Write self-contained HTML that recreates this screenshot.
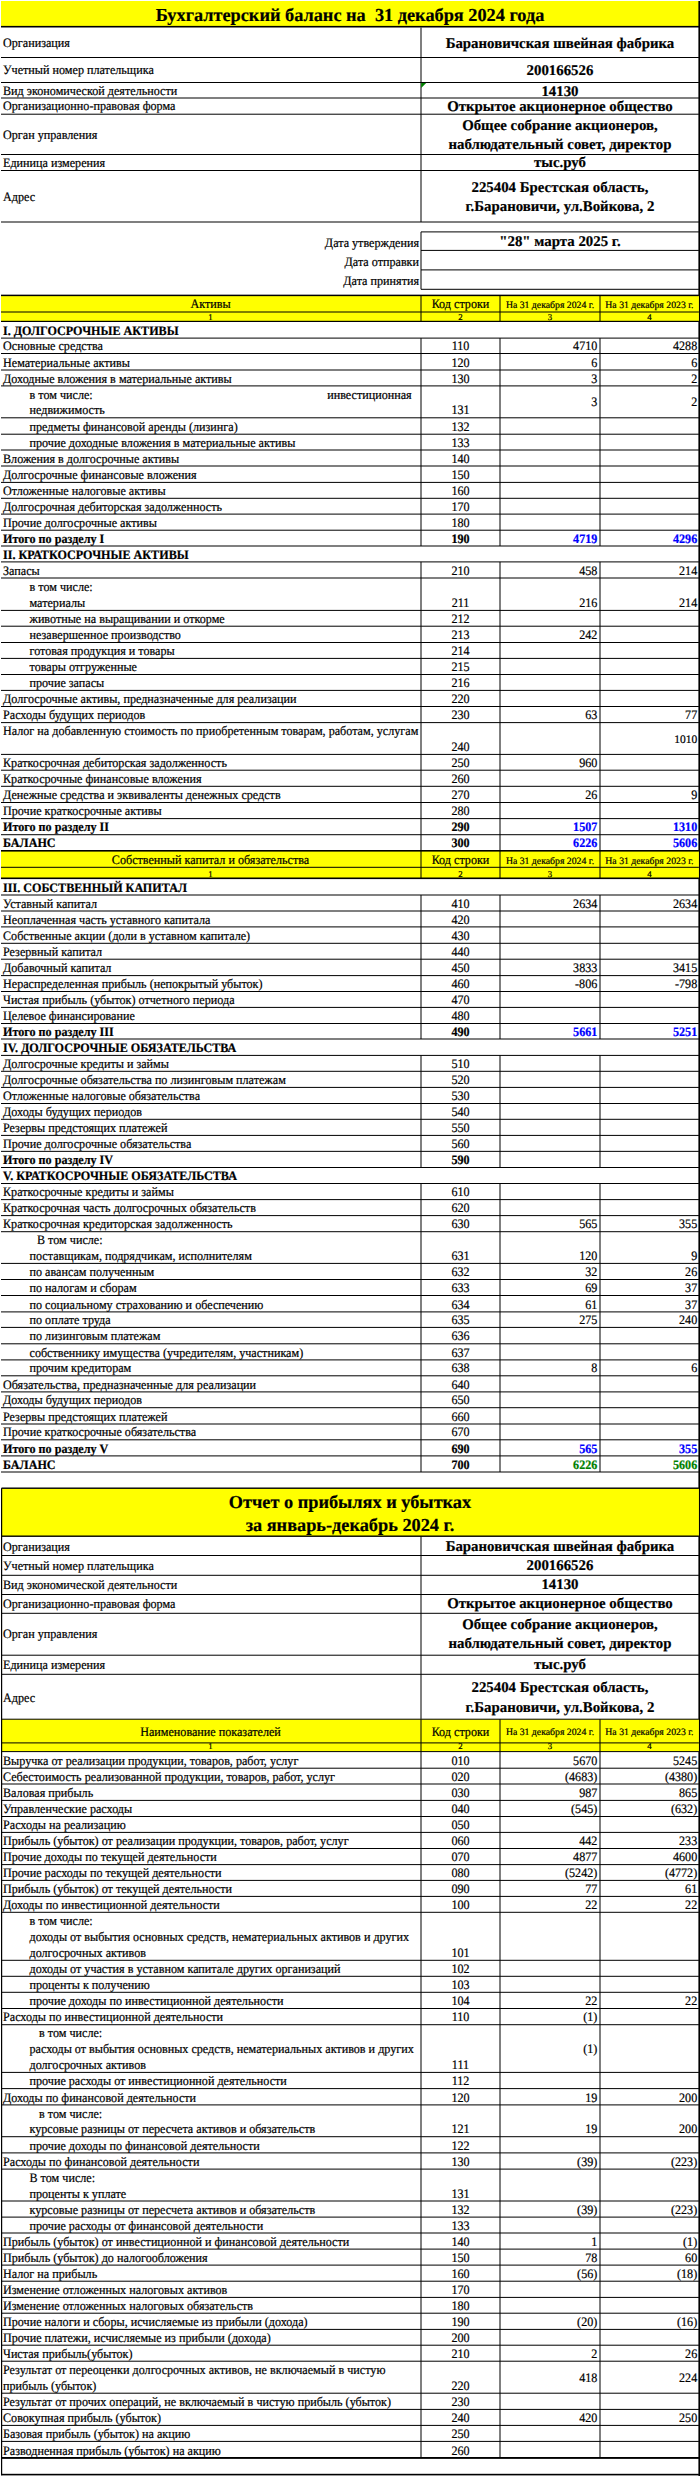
<!DOCTYPE html>
<html><head><meta charset="utf-8"><title>Бухгалтерский баланс</title>
<style>
html,body{margin:0;padding:0;background:#fff;}
#pg{position:relative;width:700px;height:2476px;overflow:hidden;background:#fff;}
#pg svg{position:absolute;left:0;top:0;}
.t{position:absolute;white-space:nowrap;line-height:1;font-family:"Liberation Serif",serif;color:#000;-webkit-text-stroke:0.2px currentColor;text-rendering:geometricPrecision;}
</style></head><body><div id="pg">
<svg width="700" height="2476" viewBox="0 0 700 2476">
<rect x="1.00" y="1.00" width="698.00" height="25.20" fill="#ffff00"/>
<rect x="1.00" y="25.90" width="698.00" height="1.60" fill="#000"/>
<rect x="698.40" y="1.00" width="1.60" height="2475.00" fill="#000"/>
<rect x="1.00" y="57.00" width="697.90" height="1.00" fill="#000"/>
<rect x="1.00" y="82.00" width="697.90" height="1.00" fill="#000"/>
<rect x="1.00" y="97.50" width="697.90" height="1.00" fill="#000"/>
<rect x="1.00" y="113.70" width="697.90" height="1.00" fill="#000"/>
<rect x="1.00" y="154.00" width="697.90" height="1.00" fill="#000"/>
<rect x="1.00" y="170.00" width="697.90" height="1.00" fill="#000"/>
<rect x="1.00" y="221.50" width="697.90" height="1.00" fill="#000"/>
<rect x="420.50" y="27.50" width="1.00" height="194.50" fill="#000"/>
<polygon points="421.2,82.9 426.2,82.9 421.2,88" fill="#008000"/>
<rect x="421.00" y="231.40" width="277.90" height="1.00" fill="#000"/>
<rect x="421.00" y="249.90" width="277.90" height="1.00" fill="#000"/>
<rect x="421.00" y="269.40" width="277.90" height="1.00" fill="#000"/>
<rect x="421.00" y="288.80" width="277.90" height="1.00" fill="#000"/>
<rect x="420.50" y="231.90" width="1.00" height="57.40" fill="#000"/>
<rect x="1.00" y="295.40" width="697.90" height="26.00" fill="#ffff00"/>
<rect x="1.00" y="294.65" width="697.90" height="1.50" fill="#000"/>
<rect x="1.00" y="311.50" width="697.90" height="1.00" fill="#000"/>
<rect x="1.00" y="320.80" width="697.90" height="1.20" fill="#000"/>
<rect x="420.50" y="295.40" width="1.00" height="26.00" fill="#000"/>
<rect x="499.50" y="295.40" width="1.00" height="26.00" fill="#000"/>
<rect x="599.50" y="295.40" width="1.00" height="26.00" fill="#000"/>
<rect x="1.00" y="337.60" width="697.90" height="1.00" fill="#000"/>
<rect x="1.00" y="353.00" width="697.90" height="1.00" fill="#000"/>
<rect x="420.50" y="338.10" width="1.00" height="15.40" fill="#000"/>
<rect x="499.50" y="338.10" width="1.00" height="15.40" fill="#000"/>
<rect x="599.50" y="338.10" width="1.00" height="15.40" fill="#000"/>
<rect x="1.00" y="369.50" width="697.90" height="1.00" fill="#000"/>
<rect x="420.50" y="353.50" width="1.00" height="16.50" fill="#000"/>
<rect x="499.50" y="353.50" width="1.00" height="16.50" fill="#000"/>
<rect x="599.50" y="353.50" width="1.00" height="16.50" fill="#000"/>
<rect x="1.00" y="385.40" width="697.90" height="1.00" fill="#000"/>
<rect x="420.50" y="370.00" width="1.00" height="15.90" fill="#000"/>
<rect x="499.50" y="370.00" width="1.00" height="15.90" fill="#000"/>
<rect x="599.50" y="370.00" width="1.00" height="15.90" fill="#000"/>
<rect x="1.00" y="417.30" width="697.90" height="1.00" fill="#000"/>
<rect x="420.50" y="385.90" width="1.00" height="31.90" fill="#000"/>
<rect x="499.50" y="385.90" width="1.00" height="31.90" fill="#000"/>
<rect x="599.50" y="385.90" width="1.00" height="31.90" fill="#000"/>
<rect x="1.00" y="433.70" width="697.90" height="1.00" fill="#000"/>
<rect x="420.50" y="417.80" width="1.00" height="16.40" fill="#000"/>
<rect x="499.50" y="417.80" width="1.00" height="16.40" fill="#000"/>
<rect x="599.50" y="417.80" width="1.00" height="16.40" fill="#000"/>
<rect x="1.00" y="449.50" width="697.90" height="1.00" fill="#000"/>
<rect x="420.50" y="434.20" width="1.00" height="15.80" fill="#000"/>
<rect x="499.50" y="434.20" width="1.00" height="15.80" fill="#000"/>
<rect x="599.50" y="434.20" width="1.00" height="15.80" fill="#000"/>
<rect x="1.00" y="465.50" width="697.90" height="1.00" fill="#000"/>
<rect x="420.50" y="450.00" width="1.00" height="16.00" fill="#000"/>
<rect x="499.50" y="450.00" width="1.00" height="16.00" fill="#000"/>
<rect x="599.50" y="450.00" width="1.00" height="16.00" fill="#000"/>
<rect x="1.00" y="481.90" width="697.90" height="1.00" fill="#000"/>
<rect x="420.50" y="466.00" width="1.00" height="16.40" fill="#000"/>
<rect x="499.50" y="466.00" width="1.00" height="16.40" fill="#000"/>
<rect x="599.50" y="466.00" width="1.00" height="16.40" fill="#000"/>
<rect x="1.00" y="497.80" width="697.90" height="1.00" fill="#000"/>
<rect x="420.50" y="482.40" width="1.00" height="15.90" fill="#000"/>
<rect x="499.50" y="482.40" width="1.00" height="15.90" fill="#000"/>
<rect x="599.50" y="482.40" width="1.00" height="15.90" fill="#000"/>
<rect x="1.00" y="513.60" width="697.90" height="1.00" fill="#000"/>
<rect x="420.50" y="498.30" width="1.00" height="15.80" fill="#000"/>
<rect x="499.50" y="498.30" width="1.00" height="15.80" fill="#000"/>
<rect x="599.50" y="498.30" width="1.00" height="15.80" fill="#000"/>
<rect x="1.00" y="529.70" width="697.90" height="1.00" fill="#000"/>
<rect x="420.50" y="514.10" width="1.00" height="16.10" fill="#000"/>
<rect x="499.50" y="514.10" width="1.00" height="16.10" fill="#000"/>
<rect x="599.50" y="514.10" width="1.00" height="16.10" fill="#000"/>
<rect x="1.00" y="545.50" width="697.90" height="1.00" fill="#000"/>
<rect x="420.50" y="530.20" width="1.00" height="15.80" fill="#000"/>
<rect x="499.50" y="530.20" width="1.00" height="15.80" fill="#000"/>
<rect x="599.50" y="530.20" width="1.00" height="15.80" fill="#000"/>
<rect x="1.00" y="561.40" width="697.90" height="1.00" fill="#000"/>
<rect x="1.00" y="577.50" width="697.90" height="1.00" fill="#000"/>
<rect x="420.50" y="561.90" width="1.00" height="16.10" fill="#000"/>
<rect x="499.50" y="561.90" width="1.00" height="16.10" fill="#000"/>
<rect x="599.50" y="561.90" width="1.00" height="16.10" fill="#000"/>
<rect x="1.00" y="609.90" width="697.90" height="1.00" fill="#000"/>
<rect x="420.50" y="578.00" width="1.00" height="32.40" fill="#000"/>
<rect x="499.50" y="578.00" width="1.00" height="32.40" fill="#000"/>
<rect x="599.50" y="578.00" width="1.00" height="32.40" fill="#000"/>
<rect x="1.00" y="625.70" width="697.90" height="1.00" fill="#000"/>
<rect x="420.50" y="610.40" width="1.00" height="15.80" fill="#000"/>
<rect x="499.50" y="610.40" width="1.00" height="15.80" fill="#000"/>
<rect x="599.50" y="610.40" width="1.00" height="15.80" fill="#000"/>
<rect x="1.00" y="642.00" width="697.90" height="1.00" fill="#000"/>
<rect x="420.50" y="626.20" width="1.00" height="16.30" fill="#000"/>
<rect x="499.50" y="626.20" width="1.00" height="16.30" fill="#000"/>
<rect x="599.50" y="626.20" width="1.00" height="16.30" fill="#000"/>
<rect x="1.00" y="657.90" width="697.90" height="1.00" fill="#000"/>
<rect x="420.50" y="642.50" width="1.00" height="15.90" fill="#000"/>
<rect x="499.50" y="642.50" width="1.00" height="15.90" fill="#000"/>
<rect x="599.50" y="642.50" width="1.00" height="15.90" fill="#000"/>
<rect x="1.00" y="674.00" width="697.90" height="1.00" fill="#000"/>
<rect x="420.50" y="658.40" width="1.00" height="16.10" fill="#000"/>
<rect x="499.50" y="658.40" width="1.00" height="16.10" fill="#000"/>
<rect x="599.50" y="658.40" width="1.00" height="16.10" fill="#000"/>
<rect x="1.00" y="689.90" width="697.90" height="1.00" fill="#000"/>
<rect x="420.50" y="674.50" width="1.00" height="15.90" fill="#000"/>
<rect x="499.50" y="674.50" width="1.00" height="15.90" fill="#000"/>
<rect x="599.50" y="674.50" width="1.00" height="15.90" fill="#000"/>
<rect x="1.00" y="706.00" width="697.90" height="1.00" fill="#000"/>
<rect x="420.50" y="690.40" width="1.00" height="16.10" fill="#000"/>
<rect x="499.50" y="690.40" width="1.00" height="16.10" fill="#000"/>
<rect x="599.50" y="690.40" width="1.00" height="16.10" fill="#000"/>
<rect x="1.00" y="722.10" width="697.90" height="1.00" fill="#000"/>
<rect x="420.50" y="706.50" width="1.00" height="16.10" fill="#000"/>
<rect x="499.50" y="706.50" width="1.00" height="16.10" fill="#000"/>
<rect x="599.50" y="706.50" width="1.00" height="16.10" fill="#000"/>
<rect x="1.00" y="753.90" width="697.90" height="1.00" fill="#000"/>
<rect x="420.50" y="722.60" width="1.00" height="31.80" fill="#000"/>
<rect x="499.50" y="722.60" width="1.00" height="31.80" fill="#000"/>
<rect x="599.50" y="722.60" width="1.00" height="31.80" fill="#000"/>
<rect x="1.00" y="769.70" width="697.90" height="1.00" fill="#000"/>
<rect x="420.50" y="754.40" width="1.00" height="15.80" fill="#000"/>
<rect x="499.50" y="754.40" width="1.00" height="15.80" fill="#000"/>
<rect x="599.50" y="754.40" width="1.00" height="15.80" fill="#000"/>
<rect x="1.00" y="785.80" width="697.90" height="1.00" fill="#000"/>
<rect x="420.50" y="770.20" width="1.00" height="16.10" fill="#000"/>
<rect x="499.50" y="770.20" width="1.00" height="16.10" fill="#000"/>
<rect x="599.50" y="770.20" width="1.00" height="16.10" fill="#000"/>
<rect x="1.00" y="802.00" width="697.90" height="1.00" fill="#000"/>
<rect x="420.50" y="786.30" width="1.00" height="16.20" fill="#000"/>
<rect x="499.50" y="786.30" width="1.00" height="16.20" fill="#000"/>
<rect x="599.50" y="786.30" width="1.00" height="16.20" fill="#000"/>
<rect x="1.00" y="818.10" width="697.90" height="1.00" fill="#000"/>
<rect x="420.50" y="802.50" width="1.00" height="16.10" fill="#000"/>
<rect x="499.50" y="802.50" width="1.00" height="16.10" fill="#000"/>
<rect x="599.50" y="802.50" width="1.00" height="16.10" fill="#000"/>
<rect x="1.00" y="834.20" width="697.90" height="1.00" fill="#000"/>
<rect x="420.50" y="818.60" width="1.00" height="16.10" fill="#000"/>
<rect x="499.50" y="818.60" width="1.00" height="16.10" fill="#000"/>
<rect x="599.50" y="818.60" width="1.00" height="16.10" fill="#000"/>
<rect x="1.00" y="850.22" width="697.90" height="1.00" fill="#000"/>
<rect x="420.50" y="834.70" width="1.00" height="16.02" fill="#000"/>
<rect x="499.50" y="834.70" width="1.00" height="16.02" fill="#000"/>
<rect x="599.50" y="834.70" width="1.00" height="16.02" fill="#000"/>
<rect x="1.00" y="850.80" width="697.90" height="27.50" fill="#ffff00"/>
<rect x="1.00" y="850.00" width="697.90" height="1.60" fill="#000"/>
<rect x="1.00" y="866.80" width="697.90" height="1.00" fill="#000"/>
<rect x="1.00" y="877.50" width="697.90" height="1.60" fill="#000"/>
<rect x="420.50" y="850.80" width="1.00" height="27.50" fill="#000"/>
<rect x="499.50" y="850.80" width="1.00" height="27.50" fill="#000"/>
<rect x="599.50" y="850.80" width="1.00" height="27.50" fill="#000"/>
<rect x="1.00" y="894.50" width="697.90" height="1.00" fill="#000"/>
<rect x="1.00" y="910.50" width="697.90" height="1.00" fill="#000"/>
<rect x="420.50" y="895.00" width="1.00" height="16.00" fill="#000"/>
<rect x="499.50" y="895.00" width="1.00" height="16.00" fill="#000"/>
<rect x="599.50" y="895.00" width="1.00" height="16.00" fill="#000"/>
<rect x="1.00" y="926.40" width="697.90" height="1.00" fill="#000"/>
<rect x="420.50" y="911.00" width="1.00" height="15.90" fill="#000"/>
<rect x="499.50" y="911.00" width="1.00" height="15.90" fill="#000"/>
<rect x="599.50" y="911.00" width="1.00" height="15.90" fill="#000"/>
<rect x="1.00" y="942.80" width="697.90" height="1.00" fill="#000"/>
<rect x="420.50" y="926.90" width="1.00" height="16.40" fill="#000"/>
<rect x="499.50" y="926.90" width="1.00" height="16.40" fill="#000"/>
<rect x="599.50" y="926.90" width="1.00" height="16.40" fill="#000"/>
<rect x="1.00" y="958.70" width="697.90" height="1.00" fill="#000"/>
<rect x="420.50" y="943.30" width="1.00" height="15.90" fill="#000"/>
<rect x="499.50" y="943.30" width="1.00" height="15.90" fill="#000"/>
<rect x="599.50" y="943.30" width="1.00" height="15.90" fill="#000"/>
<rect x="1.00" y="975.10" width="697.90" height="1.00" fill="#000"/>
<rect x="420.50" y="959.20" width="1.00" height="16.40" fill="#000"/>
<rect x="499.50" y="959.20" width="1.00" height="16.40" fill="#000"/>
<rect x="599.50" y="959.20" width="1.00" height="16.40" fill="#000"/>
<rect x="1.00" y="991.00" width="697.90" height="1.00" fill="#000"/>
<rect x="420.50" y="975.60" width="1.00" height="15.90" fill="#000"/>
<rect x="499.50" y="975.60" width="1.00" height="15.90" fill="#000"/>
<rect x="599.50" y="975.60" width="1.00" height="15.90" fill="#000"/>
<rect x="1.00" y="1006.90" width="697.90" height="1.00" fill="#000"/>
<rect x="420.50" y="991.50" width="1.00" height="15.90" fill="#000"/>
<rect x="499.50" y="991.50" width="1.00" height="15.90" fill="#000"/>
<rect x="599.50" y="991.50" width="1.00" height="15.90" fill="#000"/>
<rect x="1.00" y="1023.00" width="697.90" height="1.00" fill="#000"/>
<rect x="420.50" y="1007.40" width="1.00" height="16.10" fill="#000"/>
<rect x="499.50" y="1007.40" width="1.00" height="16.10" fill="#000"/>
<rect x="599.50" y="1007.40" width="1.00" height="16.10" fill="#000"/>
<rect x="1.00" y="1038.50" width="697.90" height="1.00" fill="#000"/>
<rect x="420.50" y="1023.50" width="1.00" height="15.50" fill="#000"/>
<rect x="499.50" y="1023.50" width="1.00" height="15.50" fill="#000"/>
<rect x="599.50" y="1023.50" width="1.00" height="15.50" fill="#000"/>
<rect x="1.00" y="1054.90" width="697.90" height="1.00" fill="#000"/>
<rect x="1.00" y="1070.80" width="697.90" height="1.00" fill="#000"/>
<rect x="420.50" y="1055.40" width="1.00" height="15.90" fill="#000"/>
<rect x="499.50" y="1055.40" width="1.00" height="15.90" fill="#000"/>
<rect x="599.50" y="1055.40" width="1.00" height="15.90" fill="#000"/>
<rect x="1.00" y="1086.90" width="697.90" height="1.00" fill="#000"/>
<rect x="420.50" y="1071.30" width="1.00" height="16.10" fill="#000"/>
<rect x="499.50" y="1071.30" width="1.00" height="16.10" fill="#000"/>
<rect x="599.50" y="1071.30" width="1.00" height="16.10" fill="#000"/>
<rect x="1.00" y="1103.00" width="697.90" height="1.00" fill="#000"/>
<rect x="420.50" y="1087.40" width="1.00" height="16.10" fill="#000"/>
<rect x="499.50" y="1087.40" width="1.00" height="16.10" fill="#000"/>
<rect x="599.50" y="1087.40" width="1.00" height="16.10" fill="#000"/>
<rect x="1.00" y="1118.80" width="697.90" height="1.00" fill="#000"/>
<rect x="420.50" y="1103.50" width="1.00" height="15.80" fill="#000"/>
<rect x="499.50" y="1103.50" width="1.00" height="15.80" fill="#000"/>
<rect x="599.50" y="1103.50" width="1.00" height="15.80" fill="#000"/>
<rect x="1.00" y="1134.90" width="697.90" height="1.00" fill="#000"/>
<rect x="420.50" y="1119.30" width="1.00" height="16.10" fill="#000"/>
<rect x="499.50" y="1119.30" width="1.00" height="16.10" fill="#000"/>
<rect x="599.50" y="1119.30" width="1.00" height="16.10" fill="#000"/>
<rect x="1.00" y="1150.85" width="697.90" height="1.00" fill="#000"/>
<rect x="420.50" y="1135.40" width="1.00" height="15.95" fill="#000"/>
<rect x="499.50" y="1135.40" width="1.00" height="15.95" fill="#000"/>
<rect x="599.50" y="1135.40" width="1.00" height="15.95" fill="#000"/>
<rect x="1.00" y="1167.00" width="697.90" height="1.00" fill="#000"/>
<rect x="420.50" y="1151.35" width="1.00" height="16.15" fill="#000"/>
<rect x="499.50" y="1151.35" width="1.00" height="16.15" fill="#000"/>
<rect x="599.50" y="1151.35" width="1.00" height="16.15" fill="#000"/>
<rect x="1.00" y="1183.00" width="697.90" height="1.00" fill="#000"/>
<rect x="1.00" y="1199.10" width="697.90" height="1.00" fill="#000"/>
<rect x="420.50" y="1183.50" width="1.00" height="16.10" fill="#000"/>
<rect x="499.50" y="1183.50" width="1.00" height="16.10" fill="#000"/>
<rect x="599.50" y="1183.50" width="1.00" height="16.10" fill="#000"/>
<rect x="1.00" y="1215.10" width="697.90" height="1.00" fill="#000"/>
<rect x="420.50" y="1199.60" width="1.00" height="16.00" fill="#000"/>
<rect x="499.50" y="1199.60" width="1.00" height="16.00" fill="#000"/>
<rect x="599.50" y="1199.60" width="1.00" height="16.00" fill="#000"/>
<rect x="1.00" y="1231.20" width="697.90" height="1.00" fill="#000"/>
<rect x="420.50" y="1215.60" width="1.00" height="16.10" fill="#000"/>
<rect x="499.50" y="1215.60" width="1.00" height="16.10" fill="#000"/>
<rect x="599.50" y="1215.60" width="1.00" height="16.10" fill="#000"/>
<rect x="1.00" y="1262.90" width="697.90" height="1.00" fill="#000"/>
<rect x="420.50" y="1231.70" width="1.00" height="31.70" fill="#000"/>
<rect x="499.50" y="1231.70" width="1.00" height="31.70" fill="#000"/>
<rect x="599.50" y="1231.70" width="1.00" height="31.70" fill="#000"/>
<rect x="1.00" y="1279.00" width="697.90" height="1.00" fill="#000"/>
<rect x="420.50" y="1263.40" width="1.00" height="16.10" fill="#000"/>
<rect x="499.50" y="1263.40" width="1.00" height="16.10" fill="#000"/>
<rect x="599.50" y="1263.40" width="1.00" height="16.10" fill="#000"/>
<rect x="1.00" y="1295.00" width="697.90" height="1.00" fill="#000"/>
<rect x="420.50" y="1279.50" width="1.00" height="16.00" fill="#000"/>
<rect x="499.50" y="1279.50" width="1.00" height="16.00" fill="#000"/>
<rect x="599.50" y="1279.50" width="1.00" height="16.00" fill="#000"/>
<rect x="1.00" y="1311.40" width="697.90" height="1.00" fill="#000"/>
<rect x="420.50" y="1295.50" width="1.00" height="16.40" fill="#000"/>
<rect x="499.50" y="1295.50" width="1.00" height="16.40" fill="#000"/>
<rect x="599.50" y="1295.50" width="1.00" height="16.40" fill="#000"/>
<rect x="1.00" y="1326.90" width="697.90" height="1.00" fill="#000"/>
<rect x="420.50" y="1311.90" width="1.00" height="15.50" fill="#000"/>
<rect x="499.50" y="1311.90" width="1.00" height="15.50" fill="#000"/>
<rect x="599.50" y="1311.90" width="1.00" height="15.50" fill="#000"/>
<rect x="1.00" y="1343.30" width="697.90" height="1.00" fill="#000"/>
<rect x="420.50" y="1327.40" width="1.00" height="16.40" fill="#000"/>
<rect x="499.50" y="1327.40" width="1.00" height="16.40" fill="#000"/>
<rect x="599.50" y="1327.40" width="1.00" height="16.40" fill="#000"/>
<rect x="1.00" y="1359.40" width="697.90" height="1.00" fill="#000"/>
<rect x="420.50" y="1343.80" width="1.00" height="16.10" fill="#000"/>
<rect x="499.50" y="1343.80" width="1.00" height="16.10" fill="#000"/>
<rect x="599.50" y="1343.80" width="1.00" height="16.10" fill="#000"/>
<rect x="1.00" y="1375.30" width="697.90" height="1.00" fill="#000"/>
<rect x="420.50" y="1359.90" width="1.00" height="15.90" fill="#000"/>
<rect x="499.50" y="1359.90" width="1.00" height="15.90" fill="#000"/>
<rect x="599.50" y="1359.90" width="1.00" height="15.90" fill="#000"/>
<rect x="1.00" y="1391.40" width="697.90" height="1.00" fill="#000"/>
<rect x="420.50" y="1375.80" width="1.00" height="16.10" fill="#000"/>
<rect x="499.50" y="1375.80" width="1.00" height="16.10" fill="#000"/>
<rect x="599.50" y="1375.80" width="1.00" height="16.10" fill="#000"/>
<rect x="1.00" y="1407.20" width="697.90" height="1.00" fill="#000"/>
<rect x="420.50" y="1391.90" width="1.00" height="15.80" fill="#000"/>
<rect x="499.50" y="1391.90" width="1.00" height="15.80" fill="#000"/>
<rect x="599.50" y="1391.90" width="1.00" height="15.80" fill="#000"/>
<rect x="1.00" y="1423.50" width="697.90" height="1.00" fill="#000"/>
<rect x="420.50" y="1407.70" width="1.00" height="16.30" fill="#000"/>
<rect x="499.50" y="1407.70" width="1.00" height="16.30" fill="#000"/>
<rect x="599.50" y="1407.70" width="1.00" height="16.30" fill="#000"/>
<rect x="1.00" y="1439.30" width="697.90" height="1.00" fill="#000"/>
<rect x="420.50" y="1424.00" width="1.00" height="15.80" fill="#000"/>
<rect x="499.50" y="1424.00" width="1.00" height="15.80" fill="#000"/>
<rect x="599.50" y="1424.00" width="1.00" height="15.80" fill="#000"/>
<rect x="1.00" y="1455.40" width="697.90" height="1.00" fill="#000"/>
<rect x="420.50" y="1439.80" width="1.00" height="16.10" fill="#000"/>
<rect x="499.50" y="1439.80" width="1.00" height="16.10" fill="#000"/>
<rect x="599.50" y="1439.80" width="1.00" height="16.10" fill="#000"/>
<rect x="1.00" y="1471.50" width="697.90" height="1.00" fill="#000"/>
<rect x="420.50" y="1455.90" width="1.00" height="16.10" fill="#000"/>
<rect x="499.50" y="1455.90" width="1.00" height="16.10" fill="#000"/>
<rect x="599.50" y="1455.90" width="1.00" height="16.10" fill="#000"/>
<rect x="1.50" y="1488.20" width="697.40" height="48.00" fill="#ffff00"/>
<rect x="1.50" y="1487.50" width="697.40" height="1.40" fill="#000"/>
<rect x="1.50" y="1535.50" width="697.40" height="1.40" fill="#000"/>
<rect x="1.50" y="1555.00" width="697.40" height="1.00" fill="#000"/>
<rect x="1.50" y="1574.80" width="697.40" height="1.00" fill="#000"/>
<rect x="1.50" y="1594.00" width="697.40" height="1.00" fill="#000"/>
<rect x="1.50" y="1612.80" width="697.40" height="1.00" fill="#000"/>
<rect x="1.50" y="1654.70" width="697.40" height="1.00" fill="#000"/>
<rect x="1.50" y="1673.80" width="697.40" height="1.00" fill="#000"/>
<rect x="420.50" y="1536.20" width="1.00" height="182.70" fill="#000"/>
<rect x="1.50" y="1719.20" width="697.40" height="32.40" fill="#ffff00"/>
<rect x="1.50" y="1718.70" width="697.40" height="1.00" fill="#000"/>
<rect x="1.50" y="1742.40" width="697.40" height="1.00" fill="#000"/>
<rect x="1.50" y="1751.10" width="697.40" height="1.00" fill="#000"/>
<rect x="420.50" y="1719.20" width="1.00" height="32.40" fill="#000"/>
<rect x="499.50" y="1719.20" width="1.00" height="32.40" fill="#000"/>
<rect x="599.50" y="1719.20" width="1.00" height="32.40" fill="#000"/>
<rect x="1.50" y="1767.70" width="697.40" height="1.00" fill="#000"/>
<rect x="420.50" y="1751.50" width="1.00" height="16.70" fill="#000"/>
<rect x="499.50" y="1751.50" width="1.00" height="16.70" fill="#000"/>
<rect x="599.50" y="1751.50" width="1.00" height="16.70" fill="#000"/>
<rect x="1.50" y="1783.50" width="697.40" height="1.00" fill="#000"/>
<rect x="420.50" y="1768.20" width="1.00" height="15.80" fill="#000"/>
<rect x="499.50" y="1768.20" width="1.00" height="15.80" fill="#000"/>
<rect x="599.50" y="1768.20" width="1.00" height="15.80" fill="#000"/>
<rect x="1.50" y="1799.90" width="697.40" height="1.00" fill="#000"/>
<rect x="420.50" y="1784.00" width="1.00" height="16.40" fill="#000"/>
<rect x="499.50" y="1784.00" width="1.00" height="16.40" fill="#000"/>
<rect x="599.50" y="1784.00" width="1.00" height="16.40" fill="#000"/>
<rect x="1.50" y="1816.00" width="697.40" height="1.00" fill="#000"/>
<rect x="420.50" y="1800.40" width="1.00" height="16.10" fill="#000"/>
<rect x="499.50" y="1800.40" width="1.00" height="16.10" fill="#000"/>
<rect x="599.50" y="1800.40" width="1.00" height="16.10" fill="#000"/>
<rect x="1.50" y="1831.90" width="697.40" height="1.00" fill="#000"/>
<rect x="420.50" y="1816.50" width="1.00" height="15.90" fill="#000"/>
<rect x="499.50" y="1816.50" width="1.00" height="15.90" fill="#000"/>
<rect x="599.50" y="1816.50" width="1.00" height="15.90" fill="#000"/>
<rect x="1.50" y="1848.00" width="697.40" height="1.00" fill="#000"/>
<rect x="420.50" y="1832.40" width="1.00" height="16.10" fill="#000"/>
<rect x="499.50" y="1832.40" width="1.00" height="16.10" fill="#000"/>
<rect x="599.50" y="1832.40" width="1.00" height="16.10" fill="#000"/>
<rect x="1.50" y="1864.10" width="697.40" height="1.00" fill="#000"/>
<rect x="420.50" y="1848.50" width="1.00" height="16.10" fill="#000"/>
<rect x="499.50" y="1848.50" width="1.00" height="16.10" fill="#000"/>
<rect x="599.50" y="1848.50" width="1.00" height="16.10" fill="#000"/>
<rect x="1.50" y="1879.90" width="697.40" height="1.00" fill="#000"/>
<rect x="420.50" y="1864.60" width="1.00" height="15.80" fill="#000"/>
<rect x="499.50" y="1864.60" width="1.00" height="15.80" fill="#000"/>
<rect x="599.50" y="1864.60" width="1.00" height="15.80" fill="#000"/>
<rect x="1.50" y="1895.90" width="697.40" height="1.00" fill="#000"/>
<rect x="420.50" y="1880.40" width="1.00" height="16.00" fill="#000"/>
<rect x="499.50" y="1880.40" width="1.00" height="16.00" fill="#000"/>
<rect x="599.50" y="1880.40" width="1.00" height="16.00" fill="#000"/>
<rect x="1.50" y="1911.80" width="697.40" height="1.00" fill="#000"/>
<rect x="420.50" y="1896.40" width="1.00" height="15.90" fill="#000"/>
<rect x="499.50" y="1896.40" width="1.00" height="15.90" fill="#000"/>
<rect x="599.50" y="1896.40" width="1.00" height="15.90" fill="#000"/>
<rect x="1.50" y="1959.80" width="697.40" height="1.00" fill="#000"/>
<rect x="420.50" y="1912.30" width="1.00" height="48.00" fill="#000"/>
<rect x="499.50" y="1912.30" width="1.00" height="48.00" fill="#000"/>
<rect x="599.50" y="1912.30" width="1.00" height="48.00" fill="#000"/>
<rect x="1.50" y="1975.80" width="697.40" height="1.00" fill="#000"/>
<rect x="420.50" y="1960.30" width="1.00" height="16.00" fill="#000"/>
<rect x="499.50" y="1960.30" width="1.00" height="16.00" fill="#000"/>
<rect x="599.50" y="1960.30" width="1.00" height="16.00" fill="#000"/>
<rect x="1.50" y="1991.80" width="697.40" height="1.00" fill="#000"/>
<rect x="420.50" y="1976.30" width="1.00" height="16.00" fill="#000"/>
<rect x="499.50" y="1976.30" width="1.00" height="16.00" fill="#000"/>
<rect x="599.50" y="1976.30" width="1.00" height="16.00" fill="#000"/>
<rect x="1.50" y="2008.00" width="697.40" height="1.00" fill="#000"/>
<rect x="420.50" y="1992.30" width="1.00" height="16.20" fill="#000"/>
<rect x="499.50" y="1992.30" width="1.00" height="16.20" fill="#000"/>
<rect x="599.50" y="1992.30" width="1.00" height="16.20" fill="#000"/>
<rect x="1.50" y="2024.20" width="697.40" height="1.00" fill="#000"/>
<rect x="420.50" y="2008.50" width="1.00" height="16.20" fill="#000"/>
<rect x="499.50" y="2008.50" width="1.00" height="16.20" fill="#000"/>
<rect x="599.50" y="2008.50" width="1.00" height="16.20" fill="#000"/>
<rect x="1.50" y="2071.90" width="697.40" height="1.00" fill="#000"/>
<rect x="420.50" y="2024.70" width="1.00" height="47.70" fill="#000"/>
<rect x="499.50" y="2024.70" width="1.00" height="47.70" fill="#000"/>
<rect x="599.50" y="2024.70" width="1.00" height="47.70" fill="#000"/>
<rect x="1.50" y="2088.10" width="697.40" height="1.00" fill="#000"/>
<rect x="420.50" y="2072.40" width="1.00" height="16.20" fill="#000"/>
<rect x="499.50" y="2072.40" width="1.00" height="16.20" fill="#000"/>
<rect x="599.50" y="2072.40" width="1.00" height="16.20" fill="#000"/>
<rect x="1.50" y="2104.40" width="697.40" height="1.00" fill="#000"/>
<rect x="420.50" y="2088.60" width="1.00" height="16.30" fill="#000"/>
<rect x="499.50" y="2088.60" width="1.00" height="16.30" fill="#000"/>
<rect x="599.50" y="2088.60" width="1.00" height="16.30" fill="#000"/>
<rect x="1.50" y="2136.20" width="697.40" height="1.00" fill="#000"/>
<rect x="420.50" y="2104.90" width="1.00" height="31.80" fill="#000"/>
<rect x="499.50" y="2104.90" width="1.00" height="31.80" fill="#000"/>
<rect x="599.50" y="2104.90" width="1.00" height="31.80" fill="#000"/>
<rect x="1.50" y="2152.40" width="697.40" height="1.00" fill="#000"/>
<rect x="420.50" y="2136.70" width="1.00" height="16.20" fill="#000"/>
<rect x="499.50" y="2136.70" width="1.00" height="16.20" fill="#000"/>
<rect x="599.50" y="2136.70" width="1.00" height="16.20" fill="#000"/>
<rect x="1.50" y="2168.60" width="697.40" height="1.00" fill="#000"/>
<rect x="420.50" y="2152.90" width="1.00" height="16.20" fill="#000"/>
<rect x="499.50" y="2152.90" width="1.00" height="16.20" fill="#000"/>
<rect x="599.50" y="2152.90" width="1.00" height="16.20" fill="#000"/>
<rect x="1.50" y="2200.50" width="697.40" height="1.00" fill="#000"/>
<rect x="420.50" y="2169.10" width="1.00" height="31.90" fill="#000"/>
<rect x="499.50" y="2169.10" width="1.00" height="31.90" fill="#000"/>
<rect x="599.50" y="2169.10" width="1.00" height="31.90" fill="#000"/>
<rect x="1.50" y="2216.60" width="697.40" height="1.00" fill="#000"/>
<rect x="420.50" y="2201.00" width="1.00" height="16.10" fill="#000"/>
<rect x="499.50" y="2201.00" width="1.00" height="16.10" fill="#000"/>
<rect x="599.50" y="2201.00" width="1.00" height="16.10" fill="#000"/>
<rect x="1.50" y="2232.50" width="697.40" height="1.00" fill="#000"/>
<rect x="420.50" y="2217.10" width="1.00" height="15.90" fill="#000"/>
<rect x="499.50" y="2217.10" width="1.00" height="15.90" fill="#000"/>
<rect x="599.50" y="2217.10" width="1.00" height="15.90" fill="#000"/>
<rect x="1.50" y="2248.60" width="697.40" height="1.00" fill="#000"/>
<rect x="420.50" y="2233.00" width="1.00" height="16.10" fill="#000"/>
<rect x="499.50" y="2233.00" width="1.00" height="16.10" fill="#000"/>
<rect x="599.50" y="2233.00" width="1.00" height="16.10" fill="#000"/>
<rect x="1.50" y="2264.60" width="697.40" height="1.00" fill="#000"/>
<rect x="420.50" y="2249.10" width="1.00" height="16.00" fill="#000"/>
<rect x="499.50" y="2249.10" width="1.00" height="16.00" fill="#000"/>
<rect x="599.50" y="2249.10" width="1.00" height="16.00" fill="#000"/>
<rect x="1.50" y="2280.70" width="697.40" height="1.00" fill="#000"/>
<rect x="420.50" y="2265.10" width="1.00" height="16.10" fill="#000"/>
<rect x="499.50" y="2265.10" width="1.00" height="16.10" fill="#000"/>
<rect x="599.50" y="2265.10" width="1.00" height="16.10" fill="#000"/>
<rect x="1.50" y="2296.90" width="697.40" height="1.00" fill="#000"/>
<rect x="420.50" y="2281.20" width="1.00" height="16.20" fill="#000"/>
<rect x="499.50" y="2281.20" width="1.00" height="16.20" fill="#000"/>
<rect x="599.50" y="2281.20" width="1.00" height="16.20" fill="#000"/>
<rect x="1.50" y="2312.70" width="697.40" height="1.00" fill="#000"/>
<rect x="420.50" y="2297.40" width="1.00" height="15.80" fill="#000"/>
<rect x="499.50" y="2297.40" width="1.00" height="15.80" fill="#000"/>
<rect x="599.50" y="2297.40" width="1.00" height="15.80" fill="#000"/>
<rect x="1.50" y="2328.90" width="697.40" height="1.00" fill="#000"/>
<rect x="420.50" y="2313.20" width="1.00" height="16.20" fill="#000"/>
<rect x="499.50" y="2313.20" width="1.00" height="16.20" fill="#000"/>
<rect x="599.50" y="2313.20" width="1.00" height="16.20" fill="#000"/>
<rect x="1.50" y="2344.70" width="697.40" height="1.00" fill="#000"/>
<rect x="420.50" y="2329.40" width="1.00" height="15.80" fill="#000"/>
<rect x="499.50" y="2329.40" width="1.00" height="15.80" fill="#000"/>
<rect x="599.50" y="2329.40" width="1.00" height="15.80" fill="#000"/>
<rect x="1.50" y="2360.70" width="697.40" height="1.00" fill="#000"/>
<rect x="420.50" y="2345.20" width="1.00" height="16.00" fill="#000"/>
<rect x="499.50" y="2345.20" width="1.00" height="16.00" fill="#000"/>
<rect x="599.50" y="2345.20" width="1.00" height="16.00" fill="#000"/>
<rect x="1.50" y="2392.70" width="697.40" height="1.00" fill="#000"/>
<rect x="420.50" y="2361.20" width="1.00" height="32.00" fill="#000"/>
<rect x="499.50" y="2361.20" width="1.00" height="32.00" fill="#000"/>
<rect x="599.50" y="2361.20" width="1.00" height="32.00" fill="#000"/>
<rect x="1.50" y="2408.90" width="697.40" height="1.00" fill="#000"/>
<rect x="420.50" y="2393.20" width="1.00" height="16.20" fill="#000"/>
<rect x="499.50" y="2393.20" width="1.00" height="16.20" fill="#000"/>
<rect x="599.50" y="2393.20" width="1.00" height="16.20" fill="#000"/>
<rect x="1.50" y="2424.90" width="697.40" height="1.00" fill="#000"/>
<rect x="420.50" y="2409.40" width="1.00" height="16.00" fill="#000"/>
<rect x="499.50" y="2409.40" width="1.00" height="16.00" fill="#000"/>
<rect x="599.50" y="2409.40" width="1.00" height="16.00" fill="#000"/>
<rect x="1.50" y="2440.90" width="697.40" height="1.00" fill="#000"/>
<rect x="420.50" y="2425.40" width="1.00" height="16.00" fill="#000"/>
<rect x="499.50" y="2425.40" width="1.00" height="16.00" fill="#000"/>
<rect x="599.50" y="2425.40" width="1.00" height="16.00" fill="#000"/>
<rect x="1.50" y="2457.40" width="697.40" height="1.00" fill="#000"/>
<rect x="420.50" y="2441.40" width="1.00" height="16.50" fill="#000"/>
<rect x="499.50" y="2441.40" width="1.00" height="16.50" fill="#000"/>
<rect x="599.50" y="2441.40" width="1.00" height="16.50" fill="#000"/>
<rect x="1.50" y="2457.00" width="697.40" height="1.80" fill="#000"/>
<rect x="1.50" y="2473.80" width="697.40" height="1.60" fill="#000"/>
<rect x="1.00" y="1488.20" width="1.20" height="987.20" fill="#000"/>
</svg>
<div class="t" style="top:6px;font-size:18.3px;font-weight:bold;left:0.00px;width:700.00px;text-align:center;white-space:pre;">Бухгалтерский баланс на  31 декабря 2024 года</div>
<div class="t" style="top:37px;font-size:12.13px;left:3.00px;transform:scaleY(1.07);transform-origin:0 10px;">Организация</div>
<div class="t" style="top:37px;font-size:14.85px;font-weight:bold;left:421.00px;width:277.90px;text-align:center;">Барановичская швейная фабрика</div>
<div class="t" style="top:64px;font-size:12.13px;left:3.00px;transform:scaleY(1.07);transform-origin:0 10px;">Учетный номер плательщика</div>
<div class="t" style="top:64px;font-size:14.85px;font-weight:bold;left:421.00px;width:277.90px;text-align:center;">200166526</div>
<div class="t" style="top:85px;font-size:12.13px;left:3.00px;transform:scaleY(1.07);transform-origin:0 10px;">Вид экономической деятельности</div>
<div class="t" style="top:85px;font-size:14.85px;font-weight:bold;left:421.00px;width:277.90px;text-align:center;">14130</div>
<div class="t" style="top:100px;font-size:12.13px;left:3.00px;transform:scaleY(1.07);transform-origin:0 10px;">Организационно-правовая форма</div>
<div class="t" style="top:100px;font-size:14.85px;font-weight:bold;left:421.00px;width:277.90px;text-align:center;">Открытое акционерное общество</div>
<div class="t" style="top:129px;font-size:12.13px;left:3.00px;transform:scaleY(1.07);transform-origin:0 10px;">Орган управления</div>
<div class="t" style="top:119px;font-size:14.85px;font-weight:bold;left:421.00px;width:277.90px;text-align:center;">Общее собрание акционеров,</div>
<div class="t" style="top:138px;font-size:14.85px;font-weight:bold;left:421.00px;width:277.90px;text-align:center;">наблюдательный совет, директор</div>
<div class="t" style="top:157px;font-size:12.13px;left:3.00px;transform:scaleY(1.07);transform-origin:0 10px;">Единица измерения</div>
<div class="t" style="top:156px;font-size:14.85px;font-weight:bold;left:421.00px;width:277.90px;text-align:center;">тыс.руб</div>
<div class="t" style="top:191px;font-size:12.13px;left:3.00px;transform:scaleY(1.07);transform-origin:0 10px;">Адрес</div>
<div class="t" style="top:181px;font-size:14.85px;font-weight:bold;left:421.00px;width:277.90px;text-align:center;">225404 Брестская область,</div>
<div class="t" style="top:200px;font-size:14.85px;font-weight:bold;left:421.00px;width:277.90px;text-align:center;">г.Барановичи, ул.Войкова, 2</div>
<div class="t" style="top:237px;font-size:12.13px;right:281.00px;transform:scaleY(1.07);transform-origin:0 10px;">Дата утверждения</div>
<div class="t" style="top:256px;font-size:12.13px;right:281.00px;transform:scaleY(1.07);transform-origin:0 10px;">Дата отправки</div>
<div class="t" style="top:275px;font-size:12.13px;right:281.00px;transform:scaleY(1.07);transform-origin:0 10px;">Дата принятия</div>
<div class="t" style="top:235px;font-size:14.85px;font-weight:bold;left:421.00px;width:277.90px;text-align:center;">&quot;28&quot; марта 2025 г.</div>
<div class="t" style="top:298px;font-size:12.13px;left:0.00px;width:421.00px;text-align:center;transform:scaleY(1.07);transform-origin:0 10px;">Активы</div>
<div class="t" style="top:298px;font-size:12.13px;left:421.00px;width:79.00px;text-align:center;transform:scaleY(1.07);transform-origin:0 10px;">Код строки</div>
<div class="t" style="top:301px;font-size:9.75px;left:500.00px;width:100.00px;text-align:center;">На 31 декабря 2024 г.</div>
<div class="t" style="top:301px;font-size:9.75px;left:600.00px;width:98.90px;text-align:center;">На 31 декабря 2023 г.</div>
<div class="t" style="top:313px;font-size:8.8px;left:0.00px;width:421.00px;text-align:center;">1</div>
<div class="t" style="top:313px;font-size:8.8px;left:421.00px;width:79.00px;text-align:center;">2</div>
<div class="t" style="top:313px;font-size:8.8px;left:500.00px;width:100.00px;text-align:center;">3</div>
<div class="t" style="top:313px;font-size:8.8px;left:600.00px;width:98.90px;text-align:center;">4</div>
<div class="t" style="top:325px;font-size:12.13px;font-weight:bold;left:3.00px;transform:scaleY(1.07);transform-origin:0 10px;">I. ДОЛГОСРОЧНЫЕ АКТИВЫ</div>
<div class="t" style="top:340px;font-size:12.13px;left:3.00px;transform:scaleY(1.07);transform-origin:0 10px;">Основные средства</div>
<div class="t" style="top:340px;font-size:12.13px;left:421.00px;width:79.00px;text-align:center;transform:scaleY(1.07);transform-origin:0 10px;">110</div>
<div class="t" style="top:340px;font-size:12.13px;right:102.70px;transform:scaleY(1.07);transform-origin:0 10px;">4710</div>
<div class="t" style="top:340px;font-size:12.13px;right:2.80px;transform:scaleY(1.07);transform-origin:0 10px;">4288</div>
<div class="t" style="top:357px;font-size:12.13px;left:3.00px;transform:scaleY(1.07);transform-origin:0 10px;">Нематериальные активы</div>
<div class="t" style="top:357px;font-size:12.13px;left:421.00px;width:79.00px;text-align:center;transform:scaleY(1.07);transform-origin:0 10px;">120</div>
<div class="t" style="top:357px;font-size:12.13px;right:102.70px;transform:scaleY(1.07);transform-origin:0 10px;">6</div>
<div class="t" style="top:357px;font-size:12.13px;right:2.80px;transform:scaleY(1.07);transform-origin:0 10px;">6</div>
<div class="t" style="top:373px;font-size:12.13px;left:3.00px;transform:scaleY(1.07);transform-origin:0 10px;">Доходные вложения в материальные активы</div>
<div class="t" style="top:373px;font-size:12.13px;left:421.00px;width:79.00px;text-align:center;transform:scaleY(1.07);transform-origin:0 10px;">130</div>
<div class="t" style="top:373px;font-size:12.13px;right:102.70px;transform:scaleY(1.07);transform-origin:0 10px;">3</div>
<div class="t" style="top:373px;font-size:12.13px;right:2.80px;transform:scaleY(1.07);transform-origin:0 10px;">2</div>
<div class="t" style="top:389px;font-size:12.13px;left:29.50px;transform:scaleY(1.07);transform-origin:0 10px;">в том числе:</div>
<div class="t" style="top:389px;font-size:12.13px;right:288.30px;transform:scaleY(1.07);transform-origin:0 10px;">инвестиционная</div>
<div class="t" style="top:404px;font-size:12.13px;left:29.50px;transform:scaleY(1.07);transform-origin:0 10px;">недвижимость</div>
<div class="t" style="top:404px;font-size:12.13px;left:421.00px;width:79.00px;text-align:center;transform:scaleY(1.07);transform-origin:0 10px;">131</div>
<div class="t" style="top:396px;font-size:12.13px;right:102.70px;transform:scaleY(1.07);transform-origin:0 10px;">3</div>
<div class="t" style="top:396px;font-size:12.13px;right:2.80px;transform:scaleY(1.07);transform-origin:0 10px;">2</div>
<div class="t" style="top:421px;font-size:12.13px;left:29.50px;transform:scaleY(1.07);transform-origin:0 10px;">предметы финансовой аренды (лизинга)</div>
<div class="t" style="top:421px;font-size:12.13px;left:421.00px;width:79.00px;text-align:center;transform:scaleY(1.07);transform-origin:0 10px;">132</div>
<div class="t" style="top:437px;font-size:12.13px;left:29.50px;transform:scaleY(1.07);transform-origin:0 10px;">прочие доходные вложения в материальные активы</div>
<div class="t" style="top:437px;font-size:12.13px;left:421.00px;width:79.00px;text-align:center;transform:scaleY(1.07);transform-origin:0 10px;">133</div>
<div class="t" style="top:453px;font-size:12.13px;left:3.00px;transform:scaleY(1.07);transform-origin:0 10px;">Вложения в долгосрочные активы</div>
<div class="t" style="top:453px;font-size:12.13px;left:421.00px;width:79.00px;text-align:center;transform:scaleY(1.07);transform-origin:0 10px;">140</div>
<div class="t" style="top:469px;font-size:12.13px;left:3.00px;transform:scaleY(1.07);transform-origin:0 10px;">Долгосрочные финансовые вложения</div>
<div class="t" style="top:469px;font-size:12.13px;left:421.00px;width:79.00px;text-align:center;transform:scaleY(1.07);transform-origin:0 10px;">150</div>
<div class="t" style="top:485px;font-size:12.13px;left:3.00px;transform:scaleY(1.07);transform-origin:0 10px;">Отложенные налоговые активы</div>
<div class="t" style="top:485px;font-size:12.13px;left:421.00px;width:79.00px;text-align:center;transform:scaleY(1.07);transform-origin:0 10px;">160</div>
<div class="t" style="top:501px;font-size:12.13px;left:3.00px;transform:scaleY(1.07);transform-origin:0 10px;">Долгосрочная дебиторская задолженность</div>
<div class="t" style="top:501px;font-size:12.13px;left:421.00px;width:79.00px;text-align:center;transform:scaleY(1.07);transform-origin:0 10px;">170</div>
<div class="t" style="top:517px;font-size:12.13px;left:3.00px;transform:scaleY(1.07);transform-origin:0 10px;">Прочие долгосрочные активы</div>
<div class="t" style="top:517px;font-size:12.13px;left:421.00px;width:79.00px;text-align:center;transform:scaleY(1.07);transform-origin:0 10px;">180</div>
<div class="t" style="top:533px;font-size:12.13px;font-weight:bold;left:3.00px;transform:scaleY(1.07);transform-origin:0 10px;">Итого по разделу I</div>
<div class="t" style="top:533px;font-size:12.13px;font-weight:bold;left:421.00px;width:79.00px;text-align:center;transform:scaleY(1.07);transform-origin:0 10px;">190</div>
<div class="t" style="top:533px;font-size:12.13px;font-weight:bold;color:#0000ff;right:102.70px;transform:scaleY(1.07);transform-origin:0 10px;">4719</div>
<div class="t" style="top:533px;font-size:12.13px;font-weight:bold;color:#0000ff;right:2.80px;transform:scaleY(1.07);transform-origin:0 10px;">4296</div>
<div class="t" style="top:549px;font-size:12.13px;font-weight:bold;left:3.00px;transform:scaleY(1.07);transform-origin:0 10px;">II. КРАТКОСРОЧНЫЕ АКТИВЫ</div>
<div class="t" style="top:565px;font-size:12.13px;left:3.00px;transform:scaleY(1.07);transform-origin:0 10px;">Запасы</div>
<div class="t" style="top:565px;font-size:12.13px;left:421.00px;width:79.00px;text-align:center;transform:scaleY(1.07);transform-origin:0 10px;">210</div>
<div class="t" style="top:565px;font-size:12.13px;right:102.70px;transform:scaleY(1.07);transform-origin:0 10px;">458</div>
<div class="t" style="top:565px;font-size:12.13px;right:2.80px;transform:scaleY(1.07);transform-origin:0 10px;">214</div>
<div class="t" style="top:581px;font-size:12.13px;left:29.50px;transform:scaleY(1.07);transform-origin:0 10px;">в том числе:</div>
<div class="t" style="top:597px;font-size:12.13px;left:29.50px;transform:scaleY(1.07);transform-origin:0 10px;">материалы</div>
<div class="t" style="top:597px;font-size:12.13px;left:421.00px;width:79.00px;text-align:center;transform:scaleY(1.07);transform-origin:0 10px;">211</div>
<div class="t" style="top:597px;font-size:12.13px;right:102.70px;transform:scaleY(1.07);transform-origin:0 10px;">216</div>
<div class="t" style="top:597px;font-size:12.13px;right:2.80px;transform:scaleY(1.07);transform-origin:0 10px;">214</div>
<div class="t" style="top:613px;font-size:12.13px;left:29.50px;transform:scaleY(1.07);transform-origin:0 10px;">животные на выращивании и откорме</div>
<div class="t" style="top:613px;font-size:12.13px;left:421.00px;width:79.00px;text-align:center;transform:scaleY(1.07);transform-origin:0 10px;">212</div>
<div class="t" style="top:629px;font-size:12.13px;left:29.50px;transform:scaleY(1.07);transform-origin:0 10px;">незавершенное производство</div>
<div class="t" style="top:629px;font-size:12.13px;left:421.00px;width:79.00px;text-align:center;transform:scaleY(1.07);transform-origin:0 10px;">213</div>
<div class="t" style="top:629px;font-size:12.13px;right:102.70px;transform:scaleY(1.07);transform-origin:0 10px;">242</div>
<div class="t" style="top:645px;font-size:12.13px;left:29.50px;transform:scaleY(1.07);transform-origin:0 10px;">готовая продукция и товары</div>
<div class="t" style="top:645px;font-size:12.13px;left:421.00px;width:79.00px;text-align:center;transform:scaleY(1.07);transform-origin:0 10px;">214</div>
<div class="t" style="top:661px;font-size:12.13px;left:29.50px;transform:scaleY(1.07);transform-origin:0 10px;">товары отгруженные</div>
<div class="t" style="top:661px;font-size:12.13px;left:421.00px;width:79.00px;text-align:center;transform:scaleY(1.07);transform-origin:0 10px;">215</div>
<div class="t" style="top:677px;font-size:12.13px;left:29.50px;transform:scaleY(1.07);transform-origin:0 10px;">прочие запасы</div>
<div class="t" style="top:677px;font-size:12.13px;left:421.00px;width:79.00px;text-align:center;transform:scaleY(1.07);transform-origin:0 10px;">216</div>
<div class="t" style="top:693px;font-size:12.13px;left:3.00px;transform:scaleY(1.07);transform-origin:0 10px;">Долгосрочные активы, предназначенные для реализации</div>
<div class="t" style="top:693px;font-size:12.13px;left:421.00px;width:79.00px;text-align:center;transform:scaleY(1.07);transform-origin:0 10px;">220</div>
<div class="t" style="top:709px;font-size:12.13px;left:3.00px;transform:scaleY(1.07);transform-origin:0 10px;">Расходы будущих периодов</div>
<div class="t" style="top:709px;font-size:12.13px;left:421.00px;width:79.00px;text-align:center;transform:scaleY(1.07);transform-origin:0 10px;">230</div>
<div class="t" style="top:709px;font-size:12.13px;right:102.70px;transform:scaleY(1.07);transform-origin:0 10px;">63</div>
<div class="t" style="top:709px;font-size:12.13px;right:2.80px;transform:scaleY(1.07);transform-origin:0 10px;">77</div>
<div class="t" style="top:725px;font-size:12.13px;left:3.00px;transform:scaleY(1.07);transform-origin:0 10px;">Налог на добавленную стоимость по приобретенным товарам, работам, услугам</div>
<div class="t" style="top:741px;font-size:12.13px;left:421.00px;width:79.00px;text-align:center;transform:scaleY(1.07);transform-origin:0 10px;">240</div>
<div class="t" style="top:735px;font-size:11.5px;right:2.80px;">1010</div>
<div class="t" style="top:757px;font-size:12.13px;left:3.00px;transform:scaleY(1.07);transform-origin:0 10px;">Краткосрочная дебиторская задолженность</div>
<div class="t" style="top:757px;font-size:12.13px;left:421.00px;width:79.00px;text-align:center;transform:scaleY(1.07);transform-origin:0 10px;">250</div>
<div class="t" style="top:757px;font-size:12.13px;right:102.70px;transform:scaleY(1.07);transform-origin:0 10px;">960</div>
<div class="t" style="top:773px;font-size:12.13px;left:3.00px;transform:scaleY(1.07);transform-origin:0 10px;">Краткосрочные финансовые вложения</div>
<div class="t" style="top:773px;font-size:12.13px;left:421.00px;width:79.00px;text-align:center;transform:scaleY(1.07);transform-origin:0 10px;">260</div>
<div class="t" style="top:789px;font-size:12.13px;left:3.00px;transform:scaleY(1.07);transform-origin:0 10px;">Денежные средства и эквиваленты денежных средств</div>
<div class="t" style="top:789px;font-size:12.13px;left:421.00px;width:79.00px;text-align:center;transform:scaleY(1.07);transform-origin:0 10px;">270</div>
<div class="t" style="top:789px;font-size:12.13px;right:102.70px;transform:scaleY(1.07);transform-origin:0 10px;">26</div>
<div class="t" style="top:789px;font-size:12.13px;right:2.80px;transform:scaleY(1.07);transform-origin:0 10px;">9</div>
<div class="t" style="top:805px;font-size:12.13px;left:3.00px;transform:scaleY(1.07);transform-origin:0 10px;">Прочие краткосрочные активы</div>
<div class="t" style="top:805px;font-size:12.13px;left:421.00px;width:79.00px;text-align:center;transform:scaleY(1.07);transform-origin:0 10px;">280</div>
<div class="t" style="top:821px;font-size:12.13px;font-weight:bold;left:3.00px;transform:scaleY(1.07);transform-origin:0 10px;">Итого по разделу II</div>
<div class="t" style="top:821px;font-size:12.13px;font-weight:bold;left:421.00px;width:79.00px;text-align:center;transform:scaleY(1.07);transform-origin:0 10px;">290</div>
<div class="t" style="top:821px;font-size:12.13px;font-weight:bold;color:#0000ff;right:102.70px;transform:scaleY(1.07);transform-origin:0 10px;">1507</div>
<div class="t" style="top:821px;font-size:12.13px;font-weight:bold;color:#0000ff;right:2.80px;transform:scaleY(1.07);transform-origin:0 10px;">1310</div>
<div class="t" style="top:837px;font-size:12.13px;font-weight:bold;left:3.00px;transform:scaleY(1.07);transform-origin:0 10px;">БАЛАНС</div>
<div class="t" style="top:837px;font-size:12.13px;font-weight:bold;left:421.00px;width:79.00px;text-align:center;transform:scaleY(1.07);transform-origin:0 10px;">300</div>
<div class="t" style="top:837px;font-size:12.13px;font-weight:bold;color:#0000ff;right:102.70px;transform:scaleY(1.07);transform-origin:0 10px;">6226</div>
<div class="t" style="top:837px;font-size:12.13px;font-weight:bold;color:#0000ff;right:2.80px;transform:scaleY(1.07);transform-origin:0 10px;">5606</div>
<div class="t" style="top:854px;font-size:12.13px;left:0.00px;width:421.00px;text-align:center;transform:scaleY(1.07);transform-origin:0 10px;">Собственный капитал и обязательства</div>
<div class="t" style="top:854px;font-size:12.13px;left:421.00px;width:79.00px;text-align:center;transform:scaleY(1.07);transform-origin:0 10px;">Код строки</div>
<div class="t" style="top:857px;font-size:9.75px;left:500.00px;width:100.00px;text-align:center;">На 31 декабря 2024 г.</div>
<div class="t" style="top:857px;font-size:9.75px;left:600.00px;width:98.90px;text-align:center;">На 31 декабря 2023 г.</div>
<div class="t" style="top:870px;font-size:8.8px;left:0.00px;width:421.00px;text-align:center;">1</div>
<div class="t" style="top:870px;font-size:8.8px;left:421.00px;width:79.00px;text-align:center;">2</div>
<div class="t" style="top:870px;font-size:8.8px;left:500.00px;width:100.00px;text-align:center;">3</div>
<div class="t" style="top:870px;font-size:8.8px;left:600.00px;width:98.90px;text-align:center;">4</div>
<div class="t" style="top:882px;font-size:12.13px;font-weight:bold;left:3.00px;transform:scaleY(1.07);transform-origin:0 10px;">III. СОБСТВЕННЫЙ КАПИТАЛ</div>
<div class="t" style="top:898px;font-size:12.13px;left:3.00px;transform:scaleY(1.07);transform-origin:0 10px;">Уставный капитал</div>
<div class="t" style="top:898px;font-size:12.13px;left:421.00px;width:79.00px;text-align:center;transform:scaleY(1.07);transform-origin:0 10px;">410</div>
<div class="t" style="top:898px;font-size:12.13px;right:102.70px;transform:scaleY(1.07);transform-origin:0 10px;">2634</div>
<div class="t" style="top:898px;font-size:12.13px;right:2.80px;transform:scaleY(1.07);transform-origin:0 10px;">2634</div>
<div class="t" style="top:914px;font-size:12.13px;left:3.00px;transform:scaleY(1.07);transform-origin:0 10px;">Неоплаченная часть уставного капитала</div>
<div class="t" style="top:914px;font-size:12.13px;left:421.00px;width:79.00px;text-align:center;transform:scaleY(1.07);transform-origin:0 10px;">420</div>
<div class="t" style="top:930px;font-size:12.13px;left:3.00px;transform:scaleY(1.07);transform-origin:0 10px;">Собственные акции (доли в уставном капитале)</div>
<div class="t" style="top:930px;font-size:12.13px;left:421.00px;width:79.00px;text-align:center;transform:scaleY(1.07);transform-origin:0 10px;">430</div>
<div class="t" style="top:946px;font-size:12.13px;left:3.00px;transform:scaleY(1.07);transform-origin:0 10px;">Резервный капитал</div>
<div class="t" style="top:946px;font-size:12.13px;left:421.00px;width:79.00px;text-align:center;transform:scaleY(1.07);transform-origin:0 10px;">440</div>
<div class="t" style="top:962px;font-size:12.13px;left:3.00px;transform:scaleY(1.07);transform-origin:0 10px;">Добавочный капитал</div>
<div class="t" style="top:962px;font-size:12.13px;left:421.00px;width:79.00px;text-align:center;transform:scaleY(1.07);transform-origin:0 10px;">450</div>
<div class="t" style="top:962px;font-size:12.13px;right:102.70px;transform:scaleY(1.07);transform-origin:0 10px;">3833</div>
<div class="t" style="top:962px;font-size:12.13px;right:2.80px;transform:scaleY(1.07);transform-origin:0 10px;">3415</div>
<div class="t" style="top:978px;font-size:12.13px;left:3.00px;transform:scaleY(1.07);transform-origin:0 10px;">Нераспределенная прибыль (непокрытый убыток)</div>
<div class="t" style="top:978px;font-size:12.13px;left:421.00px;width:79.00px;text-align:center;transform:scaleY(1.07);transform-origin:0 10px;">460</div>
<div class="t" style="top:978px;font-size:12.13px;right:102.70px;transform:scaleY(1.07);transform-origin:0 10px;">-806</div>
<div class="t" style="top:978px;font-size:12.13px;right:2.80px;transform:scaleY(1.07);transform-origin:0 10px;">-798</div>
<div class="t" style="top:994px;font-size:12.13px;left:3.00px;transform:scaleY(1.07);transform-origin:0 10px;">Чистая прибыль (убыток) отчетного периода</div>
<div class="t" style="top:994px;font-size:12.13px;left:421.00px;width:79.00px;text-align:center;transform:scaleY(1.07);transform-origin:0 10px;">470</div>
<div class="t" style="top:1010px;font-size:12.13px;left:3.00px;transform:scaleY(1.07);transform-origin:0 10px;">Целевое финансирование</div>
<div class="t" style="top:1010px;font-size:12.13px;left:421.00px;width:79.00px;text-align:center;transform:scaleY(1.07);transform-origin:0 10px;">480</div>
<div class="t" style="top:1026px;font-size:12.13px;font-weight:bold;left:3.00px;transform:scaleY(1.07);transform-origin:0 10px;">Итого по разделу III</div>
<div class="t" style="top:1026px;font-size:12.13px;font-weight:bold;left:421.00px;width:79.00px;text-align:center;transform:scaleY(1.07);transform-origin:0 10px;">490</div>
<div class="t" style="top:1026px;font-size:12.13px;font-weight:bold;color:#0000ff;right:102.70px;transform:scaleY(1.07);transform-origin:0 10px;">5661</div>
<div class="t" style="top:1026px;font-size:12.13px;font-weight:bold;color:#0000ff;right:2.80px;transform:scaleY(1.07);transform-origin:0 10px;">5251</div>
<div class="t" style="top:1042px;font-size:12.13px;font-weight:bold;left:3.00px;transform:scaleY(1.07);transform-origin:0 10px;">IV. ДОЛГОСРОЧНЫЕ ОБЯЗАТЕЛЬСТВА</div>
<div class="t" style="top:1058px;font-size:12.13px;left:3.00px;transform:scaleY(1.07);transform-origin:0 10px;">Долгосрочные кредиты и займы</div>
<div class="t" style="top:1058px;font-size:12.13px;left:421.00px;width:79.00px;text-align:center;transform:scaleY(1.07);transform-origin:0 10px;">510</div>
<div class="t" style="top:1074px;font-size:12.13px;left:3.00px;transform:scaleY(1.07);transform-origin:0 10px;">Долгосрочные обязательства по лизинговым платежам</div>
<div class="t" style="top:1074px;font-size:12.13px;left:421.00px;width:79.00px;text-align:center;transform:scaleY(1.07);transform-origin:0 10px;">520</div>
<div class="t" style="top:1090px;font-size:12.13px;left:3.00px;transform:scaleY(1.07);transform-origin:0 10px;">Отложенные налоговые обязательства</div>
<div class="t" style="top:1090px;font-size:12.13px;left:421.00px;width:79.00px;text-align:center;transform:scaleY(1.07);transform-origin:0 10px;">530</div>
<div class="t" style="top:1106px;font-size:12.13px;left:3.00px;transform:scaleY(1.07);transform-origin:0 10px;">Доходы будущих периодов</div>
<div class="t" style="top:1106px;font-size:12.13px;left:421.00px;width:79.00px;text-align:center;transform:scaleY(1.07);transform-origin:0 10px;">540</div>
<div class="t" style="top:1122px;font-size:12.13px;left:3.00px;transform:scaleY(1.07);transform-origin:0 10px;">Резервы предстоящих платежей</div>
<div class="t" style="top:1122px;font-size:12.13px;left:421.00px;width:79.00px;text-align:center;transform:scaleY(1.07);transform-origin:0 10px;">550</div>
<div class="t" style="top:1138px;font-size:12.13px;left:3.00px;transform:scaleY(1.07);transform-origin:0 10px;">Прочие долгосрочные обязательства</div>
<div class="t" style="top:1138px;font-size:12.13px;left:421.00px;width:79.00px;text-align:center;transform:scaleY(1.07);transform-origin:0 10px;">560</div>
<div class="t" style="top:1154px;font-size:12.13px;font-weight:bold;left:3.00px;transform:scaleY(1.07);transform-origin:0 10px;">Итого по разделу IV</div>
<div class="t" style="top:1154px;font-size:12.13px;font-weight:bold;left:421.00px;width:79.00px;text-align:center;transform:scaleY(1.07);transform-origin:0 10px;">590</div>
<div class="t" style="top:1170px;font-size:12.13px;font-weight:bold;left:3.00px;transform:scaleY(1.07);transform-origin:0 10px;">V. КРАТКОСРОЧНЫЕ ОБЯЗАТЕЛЬСТВА</div>
<div class="t" style="top:1186px;font-size:12.13px;left:3.00px;transform:scaleY(1.07);transform-origin:0 10px;">Краткосрочные кредиты и займы</div>
<div class="t" style="top:1186px;font-size:12.13px;left:421.00px;width:79.00px;text-align:center;transform:scaleY(1.07);transform-origin:0 10px;">610</div>
<div class="t" style="top:1202px;font-size:12.13px;left:3.00px;transform:scaleY(1.07);transform-origin:0 10px;">Краткосрочная часть долгосрочных обязательств</div>
<div class="t" style="top:1202px;font-size:12.13px;left:421.00px;width:79.00px;text-align:center;transform:scaleY(1.07);transform-origin:0 10px;">620</div>
<div class="t" style="top:1218px;font-size:12.13px;left:3.00px;transform:scaleY(1.07);transform-origin:0 10px;">Краткосрочная кредиторская задолженность</div>
<div class="t" style="top:1218px;font-size:12.13px;left:421.00px;width:79.00px;text-align:center;transform:scaleY(1.07);transform-origin:0 10px;">630</div>
<div class="t" style="top:1218px;font-size:12.13px;right:102.70px;transform:scaleY(1.07);transform-origin:0 10px;">565</div>
<div class="t" style="top:1218px;font-size:12.13px;right:2.80px;transform:scaleY(1.07);transform-origin:0 10px;">355</div>
<div class="t" style="top:1234px;font-size:12.13px;left:37.00px;transform:scaleY(1.07);transform-origin:0 10px;">В том числе:</div>
<div class="t" style="top:1250px;font-size:12.13px;left:29.50px;transform:scaleY(1.07);transform-origin:0 10px;">поставщикам, подрядчикам, исполнителям</div>
<div class="t" style="top:1250px;font-size:12.13px;left:421.00px;width:79.00px;text-align:center;transform:scaleY(1.07);transform-origin:0 10px;">631</div>
<div class="t" style="top:1250px;font-size:12.13px;right:102.70px;transform:scaleY(1.07);transform-origin:0 10px;">120</div>
<div class="t" style="top:1250px;font-size:12.13px;right:2.80px;transform:scaleY(1.07);transform-origin:0 10px;">9</div>
<div class="t" style="top:1266px;font-size:12.13px;left:29.50px;transform:scaleY(1.07);transform-origin:0 10px;">по авансам полученным</div>
<div class="t" style="top:1266px;font-size:12.13px;left:421.00px;width:79.00px;text-align:center;transform:scaleY(1.07);transform-origin:0 10px;">632</div>
<div class="t" style="top:1266px;font-size:12.13px;right:102.70px;transform:scaleY(1.07);transform-origin:0 10px;">32</div>
<div class="t" style="top:1266px;font-size:12.13px;right:2.80px;transform:scaleY(1.07);transform-origin:0 10px;">26</div>
<div class="t" style="top:1282px;font-size:12.13px;left:29.50px;transform:scaleY(1.07);transform-origin:0 10px;">по налогам и сборам</div>
<div class="t" style="top:1282px;font-size:12.13px;left:421.00px;width:79.00px;text-align:center;transform:scaleY(1.07);transform-origin:0 10px;">633</div>
<div class="t" style="top:1282px;font-size:12.13px;right:102.70px;transform:scaleY(1.07);transform-origin:0 10px;">69</div>
<div class="t" style="top:1282px;font-size:12.13px;right:2.80px;transform:scaleY(1.07);transform-origin:0 10px;">37</div>
<div class="t" style="top:1299px;font-size:12.13px;left:29.50px;transform:scaleY(1.07);transform-origin:0 10px;">по социальному страхованию и обеспечению</div>
<div class="t" style="top:1299px;font-size:12.13px;left:421.00px;width:79.00px;text-align:center;transform:scaleY(1.07);transform-origin:0 10px;">634</div>
<div class="t" style="top:1299px;font-size:12.13px;right:102.70px;transform:scaleY(1.07);transform-origin:0 10px;">61</div>
<div class="t" style="top:1299px;font-size:12.13px;right:2.80px;transform:scaleY(1.07);transform-origin:0 10px;">37</div>
<div class="t" style="top:1314px;font-size:12.13px;left:29.50px;transform:scaleY(1.07);transform-origin:0 10px;">по оплате труда</div>
<div class="t" style="top:1314px;font-size:12.13px;left:421.00px;width:79.00px;text-align:center;transform:scaleY(1.07);transform-origin:0 10px;">635</div>
<div class="t" style="top:1314px;font-size:12.13px;right:102.70px;transform:scaleY(1.07);transform-origin:0 10px;">275</div>
<div class="t" style="top:1314px;font-size:12.13px;right:2.80px;transform:scaleY(1.07);transform-origin:0 10px;">240</div>
<div class="t" style="top:1330px;font-size:12.13px;left:29.50px;transform:scaleY(1.07);transform-origin:0 10px;">по лизинговым платежам</div>
<div class="t" style="top:1330px;font-size:12.13px;left:421.00px;width:79.00px;text-align:center;transform:scaleY(1.07);transform-origin:0 10px;">636</div>
<div class="t" style="top:1347px;font-size:12.13px;left:29.50px;transform:scaleY(1.07);transform-origin:0 10px;">собственнику имущества (учредителям, участникам)</div>
<div class="t" style="top:1347px;font-size:12.13px;left:421.00px;width:79.00px;text-align:center;transform:scaleY(1.07);transform-origin:0 10px;">637</div>
<div class="t" style="top:1362px;font-size:12.13px;left:29.50px;transform:scaleY(1.07);transform-origin:0 10px;">прочим кредиторам</div>
<div class="t" style="top:1362px;font-size:12.13px;left:421.00px;width:79.00px;text-align:center;transform:scaleY(1.07);transform-origin:0 10px;">638</div>
<div class="t" style="top:1362px;font-size:12.13px;right:102.70px;transform:scaleY(1.07);transform-origin:0 10px;">8</div>
<div class="t" style="top:1362px;font-size:12.13px;right:2.80px;transform:scaleY(1.07);transform-origin:0 10px;">6</div>
<div class="t" style="top:1379px;font-size:12.13px;left:3.00px;transform:scaleY(1.07);transform-origin:0 10px;">Обязательства, предназначенные для реализации</div>
<div class="t" style="top:1379px;font-size:12.13px;left:421.00px;width:79.00px;text-align:center;transform:scaleY(1.07);transform-origin:0 10px;">640</div>
<div class="t" style="top:1394px;font-size:12.13px;left:3.00px;transform:scaleY(1.07);transform-origin:0 10px;">Доходы будущих периодов</div>
<div class="t" style="top:1394px;font-size:12.13px;left:421.00px;width:79.00px;text-align:center;transform:scaleY(1.07);transform-origin:0 10px;">650</div>
<div class="t" style="top:1411px;font-size:12.13px;left:3.00px;transform:scaleY(1.07);transform-origin:0 10px;">Резервы предстоящих платежей</div>
<div class="t" style="top:1411px;font-size:12.13px;left:421.00px;width:79.00px;text-align:center;transform:scaleY(1.07);transform-origin:0 10px;">660</div>
<div class="t" style="top:1426px;font-size:12.13px;left:3.00px;transform:scaleY(1.07);transform-origin:0 10px;">Прочие краткосрочные обязательства</div>
<div class="t" style="top:1426px;font-size:12.13px;left:421.00px;width:79.00px;text-align:center;transform:scaleY(1.07);transform-origin:0 10px;">670</div>
<div class="t" style="top:1443px;font-size:12.13px;font-weight:bold;left:3.00px;transform:scaleY(1.07);transform-origin:0 10px;">Итого по разделу V</div>
<div class="t" style="top:1443px;font-size:12.13px;font-weight:bold;left:421.00px;width:79.00px;text-align:center;transform:scaleY(1.07);transform-origin:0 10px;">690</div>
<div class="t" style="top:1443px;font-size:12.13px;font-weight:bold;color:#0000ff;right:102.70px;transform:scaleY(1.07);transform-origin:0 10px;">565</div>
<div class="t" style="top:1443px;font-size:12.13px;font-weight:bold;color:#0000ff;right:2.80px;transform:scaleY(1.07);transform-origin:0 10px;">355</div>
<div class="t" style="top:1459px;font-size:12.13px;font-weight:bold;left:3.00px;transform:scaleY(1.07);transform-origin:0 10px;">БАЛАНС</div>
<div class="t" style="top:1459px;font-size:12.13px;font-weight:bold;left:421.00px;width:79.00px;text-align:center;transform:scaleY(1.07);transform-origin:0 10px;">700</div>
<div class="t" style="top:1459px;font-size:12.13px;font-weight:bold;color:#008000;right:102.70px;transform:scaleY(1.07);transform-origin:0 10px;">6226</div>
<div class="t" style="top:1459px;font-size:12.13px;font-weight:bold;color:#008000;right:2.80px;transform:scaleY(1.07);transform-origin:0 10px;">5606</div>
<div class="t" style="top:1493px;font-size:18.3px;font-weight:bold;left:0.00px;width:700.00px;text-align:center;">Отчет о прибылях и убытках</div>
<div class="t" style="top:1516px;font-size:18.3px;font-weight:bold;left:0.00px;width:700.00px;text-align:center;">за январь-декабрь 2024 г.</div>
<div class="t" style="top:1541px;font-size:12.13px;left:3.00px;transform:scaleY(1.07);transform-origin:0 10px;">Организация</div>
<div class="t" style="top:1540px;font-size:14.85px;font-weight:bold;left:421.00px;width:277.90px;text-align:center;">Барановичская швейная фабрика</div>
<div class="t" style="top:1560px;font-size:12.13px;left:3.00px;transform:scaleY(1.07);transform-origin:0 10px;">Учетный номер плательщика</div>
<div class="t" style="top:1559px;font-size:14.85px;font-weight:bold;left:421.00px;width:277.90px;text-align:center;">200166526</div>
<div class="t" style="top:1579px;font-size:12.13px;left:3.00px;transform:scaleY(1.07);transform-origin:0 10px;">Вид экономической деятельности</div>
<div class="t" style="top:1578px;font-size:14.85px;font-weight:bold;left:421.00px;width:277.90px;text-align:center;">14130</div>
<div class="t" style="top:1598px;font-size:12.13px;left:3.00px;transform:scaleY(1.07);transform-origin:0 10px;">Организационно-правовая форма</div>
<div class="t" style="top:1597px;font-size:14.85px;font-weight:bold;left:421.00px;width:277.90px;text-align:center;">Открытое акционерное общество</div>
<div class="t" style="top:1628px;font-size:12.13px;left:3.00px;transform:scaleY(1.07);transform-origin:0 10px;">Орган управления</div>
<div class="t" style="top:1618px;font-size:14.85px;font-weight:bold;left:421.00px;width:277.90px;text-align:center;">Общее собрание акционеров,</div>
<div class="t" style="top:1637px;font-size:14.85px;font-weight:bold;left:421.00px;width:277.90px;text-align:center;">наблюдательный совет, директор</div>
<div class="t" style="top:1659px;font-size:12.13px;left:3.00px;transform:scaleY(1.07);transform-origin:0 10px;">Единица измерения</div>
<div class="t" style="top:1658px;font-size:14.85px;font-weight:bold;left:421.00px;width:277.90px;text-align:center;">тыс.руб</div>
<div class="t" style="top:1692px;font-size:12.13px;left:3.00px;transform:scaleY(1.07);transform-origin:0 10px;">Адрес</div>
<div class="t" style="top:1681px;font-size:14.85px;font-weight:bold;left:421.00px;width:277.90px;text-align:center;">225404 Брестская область,</div>
<div class="t" style="top:1701px;font-size:14.85px;font-weight:bold;left:421.00px;width:277.90px;text-align:center;">г.Барановичи, ул.Войкова, 2</div>
<div class="t" style="top:1726px;font-size:12.13px;left:0.00px;width:421.00px;text-align:center;transform:scaleY(1.07);transform-origin:0 10px;">Наименование показателей</div>
<div class="t" style="top:1726px;font-size:12.13px;left:421.00px;width:79.00px;text-align:center;transform:scaleY(1.07);transform-origin:0 10px;">Код строки</div>
<div class="t" style="top:1728px;font-size:9.75px;left:500.00px;width:100.00px;text-align:center;">На 31 декабря 2024 г.</div>
<div class="t" style="top:1728px;font-size:9.75px;left:600.00px;width:98.90px;text-align:center;">На 31 декабря 2023 г.</div>
<div class="t" style="top:1742px;font-size:8.8px;left:0.00px;width:421.00px;text-align:center;">1</div>
<div class="t" style="top:1742px;font-size:8.8px;left:421.00px;width:79.00px;text-align:center;">2</div>
<div class="t" style="top:1742px;font-size:8.8px;left:500.00px;width:100.00px;text-align:center;">3</div>
<div class="t" style="top:1742px;font-size:8.8px;left:600.00px;width:98.90px;text-align:center;">4</div>
<div class="t" style="top:1755px;font-size:12.13px;left:3.00px;transform:scaleY(1.07);transform-origin:0 10px;">Выручка от реализации продукции, товаров, работ, услуг</div>
<div class="t" style="top:1755px;font-size:12.13px;left:421.00px;width:79.00px;text-align:center;transform:scaleY(1.07);transform-origin:0 10px;">010</div>
<div class="t" style="top:1755px;font-size:12.13px;right:102.70px;transform:scaleY(1.07);transform-origin:0 10px;">5670</div>
<div class="t" style="top:1755px;font-size:12.13px;right:2.80px;transform:scaleY(1.07);transform-origin:0 10px;">5245</div>
<div class="t" style="top:1771px;font-size:12.13px;left:3.00px;transform:scaleY(1.07);transform-origin:0 10px;">Себестоимость реализованной продукции, товаров, работ, услуг</div>
<div class="t" style="top:1771px;font-size:12.13px;left:421.00px;width:79.00px;text-align:center;transform:scaleY(1.07);transform-origin:0 10px;">020</div>
<div class="t" style="top:1771px;font-size:12.13px;right:102.70px;transform:scaleY(1.07);transform-origin:0 10px;">(4683)</div>
<div class="t" style="top:1771px;font-size:12.13px;right:2.80px;transform:scaleY(1.07);transform-origin:0 10px;">(4380)</div>
<div class="t" style="top:1787px;font-size:12.13px;left:3.00px;transform:scaleY(1.07);transform-origin:0 10px;">Валовая прибыль</div>
<div class="t" style="top:1787px;font-size:12.13px;left:421.00px;width:79.00px;text-align:center;transform:scaleY(1.07);transform-origin:0 10px;">030</div>
<div class="t" style="top:1787px;font-size:12.13px;right:102.70px;transform:scaleY(1.07);transform-origin:0 10px;">987</div>
<div class="t" style="top:1787px;font-size:12.13px;right:2.80px;transform:scaleY(1.07);transform-origin:0 10px;">865</div>
<div class="t" style="top:1803px;font-size:12.13px;left:3.00px;transform:scaleY(1.07);transform-origin:0 10px;">Управленческие расходы</div>
<div class="t" style="top:1803px;font-size:12.13px;left:421.00px;width:79.00px;text-align:center;transform:scaleY(1.07);transform-origin:0 10px;">040</div>
<div class="t" style="top:1803px;font-size:12.13px;right:102.70px;transform:scaleY(1.07);transform-origin:0 10px;">(545)</div>
<div class="t" style="top:1803px;font-size:12.13px;right:2.80px;transform:scaleY(1.07);transform-origin:0 10px;">(632)</div>
<div class="t" style="top:1819px;font-size:12.13px;left:3.00px;transform:scaleY(1.07);transform-origin:0 10px;">Расходы на реализацию</div>
<div class="t" style="top:1819px;font-size:12.13px;left:421.00px;width:79.00px;text-align:center;transform:scaleY(1.07);transform-origin:0 10px;">050</div>
<div class="t" style="top:1835px;font-size:12.13px;left:3.00px;transform:scaleY(1.07);transform-origin:0 10px;">Прибыль (убыток) от реализации продукции, товаров, работ, услуг</div>
<div class="t" style="top:1835px;font-size:12.13px;left:421.00px;width:79.00px;text-align:center;transform:scaleY(1.07);transform-origin:0 10px;">060</div>
<div class="t" style="top:1835px;font-size:12.13px;right:102.70px;transform:scaleY(1.07);transform-origin:0 10px;">442</div>
<div class="t" style="top:1835px;font-size:12.13px;right:2.80px;transform:scaleY(1.07);transform-origin:0 10px;">233</div>
<div class="t" style="top:1851px;font-size:12.13px;left:3.00px;transform:scaleY(1.07);transform-origin:0 10px;">Прочие доходы по текущей деятельности</div>
<div class="t" style="top:1851px;font-size:12.13px;left:421.00px;width:79.00px;text-align:center;transform:scaleY(1.07);transform-origin:0 10px;">070</div>
<div class="t" style="top:1851px;font-size:12.13px;right:102.70px;transform:scaleY(1.07);transform-origin:0 10px;">4877</div>
<div class="t" style="top:1851px;font-size:12.13px;right:2.80px;transform:scaleY(1.07);transform-origin:0 10px;">4600</div>
<div class="t" style="top:1867px;font-size:12.13px;left:3.00px;transform:scaleY(1.07);transform-origin:0 10px;">Прочие расходы по текущей деятельности</div>
<div class="t" style="top:1867px;font-size:12.13px;left:421.00px;width:79.00px;text-align:center;transform:scaleY(1.07);transform-origin:0 10px;">080</div>
<div class="t" style="top:1867px;font-size:12.13px;right:102.70px;transform:scaleY(1.07);transform-origin:0 10px;">(5242)</div>
<div class="t" style="top:1867px;font-size:12.13px;right:2.80px;transform:scaleY(1.07);transform-origin:0 10px;">(4772)</div>
<div class="t" style="top:1883px;font-size:12.13px;left:3.00px;transform:scaleY(1.07);transform-origin:0 10px;">Прибыль (убыток) от текущей деятельности</div>
<div class="t" style="top:1883px;font-size:12.13px;left:421.00px;width:79.00px;text-align:center;transform:scaleY(1.07);transform-origin:0 10px;">090</div>
<div class="t" style="top:1883px;font-size:12.13px;right:102.70px;transform:scaleY(1.07);transform-origin:0 10px;">77</div>
<div class="t" style="top:1883px;font-size:12.13px;right:2.80px;transform:scaleY(1.07);transform-origin:0 10px;">61</div>
<div class="t" style="top:1899px;font-size:12.13px;left:3.00px;transform:scaleY(1.07);transform-origin:0 10px;">Доходы по инвестиционной деятельности</div>
<div class="t" style="top:1899px;font-size:12.13px;left:421.00px;width:79.00px;text-align:center;transform:scaleY(1.07);transform-origin:0 10px;">100</div>
<div class="t" style="top:1899px;font-size:12.13px;right:102.70px;transform:scaleY(1.07);transform-origin:0 10px;">22</div>
<div class="t" style="top:1899px;font-size:12.13px;right:2.80px;transform:scaleY(1.07);transform-origin:0 10px;">22</div>
<div class="t" style="top:1915px;font-size:12.13px;left:29.50px;transform:scaleY(1.07);transform-origin:0 10px;">в том числе:</div>
<div class="t" style="top:1931px;font-size:12.13px;left:29.50px;transform:scaleY(1.07);transform-origin:0 10px;">доходы от выбытия основных средств, нематериальных активов и других</div>
<div class="t" style="top:1947px;font-size:12.13px;left:29.50px;transform:scaleY(1.07);transform-origin:0 10px;">долгосрочных активов</div>
<div class="t" style="top:1947px;font-size:12.13px;left:421.00px;width:79.00px;text-align:center;transform:scaleY(1.07);transform-origin:0 10px;">101</div>
<div class="t" style="top:1963px;font-size:12.13px;left:29.50px;transform:scaleY(1.07);transform-origin:0 10px;">доходы от участия в уставном капитале других организаций</div>
<div class="t" style="top:1963px;font-size:12.13px;left:421.00px;width:79.00px;text-align:center;transform:scaleY(1.07);transform-origin:0 10px;">102</div>
<div class="t" style="top:1979px;font-size:12.13px;left:29.50px;transform:scaleY(1.07);transform-origin:0 10px;">проценты к получению</div>
<div class="t" style="top:1979px;font-size:12.13px;left:421.00px;width:79.00px;text-align:center;transform:scaleY(1.07);transform-origin:0 10px;">103</div>
<div class="t" style="top:1995px;font-size:12.13px;left:29.50px;transform:scaleY(1.07);transform-origin:0 10px;">прочие доходы по инвестиционной деятельности</div>
<div class="t" style="top:1995px;font-size:12.13px;left:421.00px;width:79.00px;text-align:center;transform:scaleY(1.07);transform-origin:0 10px;">104</div>
<div class="t" style="top:1995px;font-size:12.13px;right:102.70px;transform:scaleY(1.07);transform-origin:0 10px;">22</div>
<div class="t" style="top:1995px;font-size:12.13px;right:2.80px;transform:scaleY(1.07);transform-origin:0 10px;">22</div>
<div class="t" style="top:2011px;font-size:12.13px;left:3.00px;transform:scaleY(1.07);transform-origin:0 10px;">Расходы по инвестиционной деятельности</div>
<div class="t" style="top:2011px;font-size:12.13px;left:421.00px;width:79.00px;text-align:center;transform:scaleY(1.07);transform-origin:0 10px;">110</div>
<div class="t" style="top:2011px;font-size:12.13px;right:102.70px;transform:scaleY(1.07);transform-origin:0 10px;">(1)</div>
<div class="t" style="top:2027px;font-size:12.13px;left:39.00px;transform:scaleY(1.07);transform-origin:0 10px;">в том числе:</div>
<div class="t" style="top:2043px;font-size:12.13px;left:29.50px;transform:scaleY(1.07);transform-origin:0 10px;">расходы от выбытия основных средств, нематериальных активов и других</div>
<div class="t" style="top:2059px;font-size:12.13px;left:29.50px;transform:scaleY(1.07);transform-origin:0 10px;">долгосрочных активов</div>
<div class="t" style="top:2059px;font-size:12.13px;left:421.00px;width:79.00px;text-align:center;transform:scaleY(1.07);transform-origin:0 10px;">111</div>
<div class="t" style="top:2043px;font-size:12.13px;right:102.70px;transform:scaleY(1.07);transform-origin:0 10px;">(1)</div>
<div class="t" style="top:2075px;font-size:12.13px;left:29.50px;transform:scaleY(1.07);transform-origin:0 10px;">прочие расходы от инвестиционной деятельности</div>
<div class="t" style="top:2075px;font-size:12.13px;left:421.00px;width:79.00px;text-align:center;transform:scaleY(1.07);transform-origin:0 10px;">112</div>
<div class="t" style="top:2092px;font-size:12.13px;left:3.00px;transform:scaleY(1.07);transform-origin:0 10px;">Доходы по финансовой деятельности</div>
<div class="t" style="top:2092px;font-size:12.13px;left:421.00px;width:79.00px;text-align:center;transform:scaleY(1.07);transform-origin:0 10px;">120</div>
<div class="t" style="top:2092px;font-size:12.13px;right:102.70px;transform:scaleY(1.07);transform-origin:0 10px;">19</div>
<div class="t" style="top:2092px;font-size:12.13px;right:2.80px;transform:scaleY(1.07);transform-origin:0 10px;">200</div>
<div class="t" style="top:2108px;font-size:12.13px;left:39.00px;transform:scaleY(1.07);transform-origin:0 10px;">в том числе:</div>
<div class="t" style="top:2123px;font-size:12.13px;left:29.50px;transform:scaleY(1.07);transform-origin:0 10px;">курсовые разницы от пересчета активов и обязательств</div>
<div class="t" style="top:2123px;font-size:12.13px;left:421.00px;width:79.00px;text-align:center;transform:scaleY(1.07);transform-origin:0 10px;">121</div>
<div class="t" style="top:2123px;font-size:12.13px;right:102.70px;transform:scaleY(1.07);transform-origin:0 10px;">19</div>
<div class="t" style="top:2123px;font-size:12.13px;right:2.80px;transform:scaleY(1.07);transform-origin:0 10px;">200</div>
<div class="t" style="top:2140px;font-size:12.13px;left:29.50px;transform:scaleY(1.07);transform-origin:0 10px;">прочие доходы по финансовой деятельности</div>
<div class="t" style="top:2140px;font-size:12.13px;left:421.00px;width:79.00px;text-align:center;transform:scaleY(1.07);transform-origin:0 10px;">122</div>
<div class="t" style="top:2156px;font-size:12.13px;left:3.00px;transform:scaleY(1.07);transform-origin:0 10px;">Расходы по финансовой деятельности</div>
<div class="t" style="top:2156px;font-size:12.13px;left:421.00px;width:79.00px;text-align:center;transform:scaleY(1.07);transform-origin:0 10px;">130</div>
<div class="t" style="top:2156px;font-size:12.13px;right:102.70px;transform:scaleY(1.07);transform-origin:0 10px;">(39)</div>
<div class="t" style="top:2156px;font-size:12.13px;right:2.80px;transform:scaleY(1.07);transform-origin:0 10px;">(223)</div>
<div class="t" style="top:2172px;font-size:12.13px;left:29.50px;transform:scaleY(1.07);transform-origin:0 10px;">В том числе:</div>
<div class="t" style="top:2188px;font-size:12.13px;left:29.50px;transform:scaleY(1.07);transform-origin:0 10px;">проценты к уплате</div>
<div class="t" style="top:2188px;font-size:12.13px;left:421.00px;width:79.00px;text-align:center;transform:scaleY(1.07);transform-origin:0 10px;">131</div>
<div class="t" style="top:2204px;font-size:12.13px;left:29.50px;transform:scaleY(1.07);transform-origin:0 10px;">курсовые разницы от пересчета активов и обязательств</div>
<div class="t" style="top:2204px;font-size:12.13px;left:421.00px;width:79.00px;text-align:center;transform:scaleY(1.07);transform-origin:0 10px;">132</div>
<div class="t" style="top:2204px;font-size:12.13px;right:102.70px;transform:scaleY(1.07);transform-origin:0 10px;">(39)</div>
<div class="t" style="top:2204px;font-size:12.13px;right:2.80px;transform:scaleY(1.07);transform-origin:0 10px;">(223)</div>
<div class="t" style="top:2220px;font-size:12.13px;left:29.50px;transform:scaleY(1.07);transform-origin:0 10px;">прочие расходы от финансовой деятельности</div>
<div class="t" style="top:2220px;font-size:12.13px;left:421.00px;width:79.00px;text-align:center;transform:scaleY(1.07);transform-origin:0 10px;">133</div>
<div class="t" style="top:2236px;font-size:12.13px;left:3.00px;transform:scaleY(1.07);transform-origin:0 10px;">Прибыль (убыток) от инвестиционной и финансовой деятельности</div>
<div class="t" style="top:2236px;font-size:12.13px;left:421.00px;width:79.00px;text-align:center;transform:scaleY(1.07);transform-origin:0 10px;">140</div>
<div class="t" style="top:2236px;font-size:12.13px;right:102.70px;transform:scaleY(1.07);transform-origin:0 10px;">1</div>
<div class="t" style="top:2236px;font-size:12.13px;right:2.80px;transform:scaleY(1.07);transform-origin:0 10px;">(1)</div>
<div class="t" style="top:2252px;font-size:12.13px;left:3.00px;transform:scaleY(1.07);transform-origin:0 10px;">Прибыль (убыток) до налогообложения</div>
<div class="t" style="top:2252px;font-size:12.13px;left:421.00px;width:79.00px;text-align:center;transform:scaleY(1.07);transform-origin:0 10px;">150</div>
<div class="t" style="top:2252px;font-size:12.13px;right:102.70px;transform:scaleY(1.07);transform-origin:0 10px;">78</div>
<div class="t" style="top:2252px;font-size:12.13px;right:2.80px;transform:scaleY(1.07);transform-origin:0 10px;">60</div>
<div class="t" style="top:2268px;font-size:12.13px;left:3.00px;transform:scaleY(1.07);transform-origin:0 10px;">Налог на прибыль</div>
<div class="t" style="top:2268px;font-size:12.13px;left:421.00px;width:79.00px;text-align:center;transform:scaleY(1.07);transform-origin:0 10px;">160</div>
<div class="t" style="top:2268px;font-size:12.13px;right:102.70px;transform:scaleY(1.07);transform-origin:0 10px;">(56)</div>
<div class="t" style="top:2268px;font-size:12.13px;right:2.80px;transform:scaleY(1.07);transform-origin:0 10px;">(18)</div>
<div class="t" style="top:2284px;font-size:12.13px;left:3.00px;transform:scaleY(1.07);transform-origin:0 10px;">Изменение отложенных налоговых активов</div>
<div class="t" style="top:2284px;font-size:12.13px;left:421.00px;width:79.00px;text-align:center;transform:scaleY(1.07);transform-origin:0 10px;">170</div>
<div class="t" style="top:2300px;font-size:12.13px;left:3.00px;transform:scaleY(1.07);transform-origin:0 10px;">Изменение отложенных налоговых обязательств</div>
<div class="t" style="top:2300px;font-size:12.13px;left:421.00px;width:79.00px;text-align:center;transform:scaleY(1.07);transform-origin:0 10px;">180</div>
<div class="t" style="top:2316px;font-size:12.13px;left:3.00px;transform:scaleY(1.07);transform-origin:0 10px;">Прочие налоги и сборы, исчисляемые из прибыли (дохода)</div>
<div class="t" style="top:2316px;font-size:12.13px;left:421.00px;width:79.00px;text-align:center;transform:scaleY(1.07);transform-origin:0 10px;">190</div>
<div class="t" style="top:2316px;font-size:12.13px;right:102.70px;transform:scaleY(1.07);transform-origin:0 10px;">(20)</div>
<div class="t" style="top:2316px;font-size:12.13px;right:2.80px;transform:scaleY(1.07);transform-origin:0 10px;">(16)</div>
<div class="t" style="top:2332px;font-size:12.13px;left:3.00px;transform:scaleY(1.07);transform-origin:0 10px;">Прочие платежи, исчисляемые из прибыли (дохода)</div>
<div class="t" style="top:2332px;font-size:12.13px;left:421.00px;width:79.00px;text-align:center;transform:scaleY(1.07);transform-origin:0 10px;">200</div>
<div class="t" style="top:2348px;font-size:12.13px;left:3.00px;transform:scaleY(1.07);transform-origin:0 10px;">Чистая прибыль(убыток)</div>
<div class="t" style="top:2348px;font-size:12.13px;left:421.00px;width:79.00px;text-align:center;transform:scaleY(1.07);transform-origin:0 10px;">210</div>
<div class="t" style="top:2348px;font-size:12.13px;right:102.70px;transform:scaleY(1.07);transform-origin:0 10px;">2</div>
<div class="t" style="top:2348px;font-size:12.13px;right:2.80px;transform:scaleY(1.07);transform-origin:0 10px;">26</div>
<div class="t" style="top:2364px;font-size:12.13px;left:3.00px;transform:scaleY(1.07);transform-origin:0 10px;">Результат от переоценки долгосрочных активов, не включаемый в чистую</div>
<div class="t" style="top:2380px;font-size:12.13px;left:3.00px;transform:scaleY(1.07);transform-origin:0 10px;">прибыль (убыток)</div>
<div class="t" style="top:2380px;font-size:12.13px;left:421.00px;width:79.00px;text-align:center;transform:scaleY(1.07);transform-origin:0 10px;">220</div>
<div class="t" style="top:2372px;font-size:12.13px;right:102.70px;transform:scaleY(1.07);transform-origin:0 10px;">418</div>
<div class="t" style="top:2372px;font-size:12.13px;right:2.80px;transform:scaleY(1.07);transform-origin:0 10px;">224</div>
<div class="t" style="top:2396px;font-size:12.13px;left:3.00px;transform:scaleY(1.07);transform-origin:0 10px;">Результат от прочих операций, не включаемый в чистую прибыль (убыток)</div>
<div class="t" style="top:2396px;font-size:12.13px;left:421.00px;width:79.00px;text-align:center;transform:scaleY(1.07);transform-origin:0 10px;">230</div>
<div class="t" style="top:2412px;font-size:12.13px;left:3.00px;transform:scaleY(1.07);transform-origin:0 10px;">Совокупная прибыль (убыток)</div>
<div class="t" style="top:2412px;font-size:12.13px;left:421.00px;width:79.00px;text-align:center;transform:scaleY(1.07);transform-origin:0 10px;">240</div>
<div class="t" style="top:2412px;font-size:12.13px;right:102.70px;transform:scaleY(1.07);transform-origin:0 10px;">420</div>
<div class="t" style="top:2412px;font-size:12.13px;right:2.80px;transform:scaleY(1.07);transform-origin:0 10px;">250</div>
<div class="t" style="top:2428px;font-size:12.13px;left:3.00px;transform:scaleY(1.07);transform-origin:0 10px;">Базовая прибыль (убыток) на акцию</div>
<div class="t" style="top:2428px;font-size:12.13px;left:421.00px;width:79.00px;text-align:center;transform:scaleY(1.07);transform-origin:0 10px;">250</div>
<div class="t" style="top:2445px;font-size:12.13px;left:3.00px;transform:scaleY(1.07);transform-origin:0 10px;">Разводненная прибыль (убыток) на акцию</div>
<div class="t" style="top:2445px;font-size:12.13px;left:421.00px;width:79.00px;text-align:center;transform:scaleY(1.07);transform-origin:0 10px;">260</div>
</div></body></html>
